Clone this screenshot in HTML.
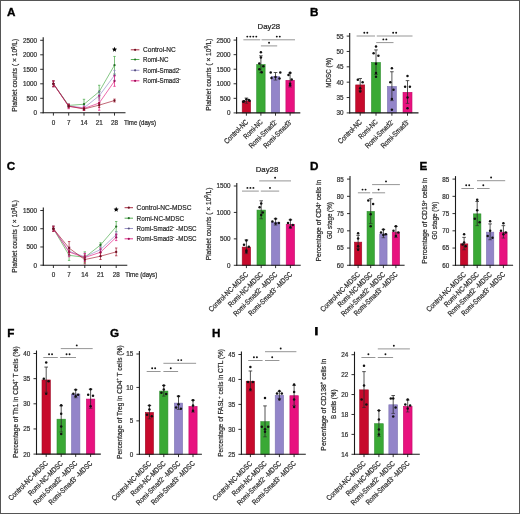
<!DOCTYPE html>
<html><head><meta charset="utf-8"><style>
html,body{margin:0;padding:0;background:#fff;width:520px;height:514px;overflow:hidden}
svg text{font-family:"Liberation Sans", sans-serif}
</style></head><body>
<svg width="520" height="514" viewBox="0 0 520 514" style="display:block;will-change:transform">
<rect x="0" y="0" width="520" height="514" fill="#fff"/>
<g font-family="Liberation Sans, sans-serif">
<text x="6.90" y="16.30" font-size="11.7" font-weight="bold" fill="#000" stroke="#000" stroke-width="0.35">A</text>
<text x="310.00" y="16.00" font-size="11.7" font-weight="bold" fill="#000" stroke="#000" stroke-width="0.35">B</text>
<text x="6.80" y="169.80" font-size="11.7" font-weight="bold" fill="#000" stroke="#000" stroke-width="0.35">C</text>
<text x="310.00" y="169.80" font-size="11.7" font-weight="bold" fill="#000" stroke="#000" stroke-width="0.35">D</text>
<text x="419.60" y="169.80" font-size="11.7" font-weight="bold" fill="#000" stroke="#000" stroke-width="0.35">E</text>
<text x="7.30" y="337.30" font-size="11.7" font-weight="bold" fill="#000" stroke="#000" stroke-width="0.35">F</text>
<text x="109.90" y="337.30" font-size="11.7" font-weight="bold" fill="#000" stroke="#000" stroke-width="0.35">G</text>
<text x="211.90" y="337.10" font-size="11.7" font-weight="bold" fill="#000" stroke="#000" stroke-width="0.35">H</text>
<rect x="315.1" y="327.0" width="2.6" height="8.4" fill="#000"/>
<polyline points="53.40,83.80 68.70,105.41 84.00,104.22 99.20,91.66 114.50,65.15" fill="none" stroke="#44a844" stroke-width="0.65"/>
<line x1="53.40" y1="80.90" x2="53.40" y2="86.70" stroke="#44a844" stroke-width="0.7"/>
<line x1="52.20" y1="80.90" x2="54.60" y2="80.90" stroke="#44a844" stroke-width="0.7"/>
<line x1="52.20" y1="86.70" x2="54.60" y2="86.70" stroke="#44a844" stroke-width="0.7"/>
<circle cx="53.40" cy="83.80" r="1.15" fill="#256e25"/>
<line x1="68.70" y1="103.95" x2="68.70" y2="106.85" stroke="#44a844" stroke-width="0.7"/>
<line x1="67.50" y1="103.95" x2="69.90" y2="103.95" stroke="#44a844" stroke-width="0.7"/>
<line x1="67.50" y1="106.85" x2="69.90" y2="106.85" stroke="#44a844" stroke-width="0.7"/>
<circle cx="68.70" cy="105.41" r="1.15" fill="#256e25"/>
<line x1="84.00" y1="99.29" x2="84.00" y2="109.15" stroke="#44a844" stroke-width="0.7"/>
<line x1="82.80" y1="99.29" x2="85.20" y2="99.29" stroke="#44a844" stroke-width="0.7"/>
<line x1="82.80" y1="109.15" x2="85.20" y2="109.15" stroke="#44a844" stroke-width="0.7"/>
<circle cx="84.00" cy="104.22" r="1.15" fill="#256e25"/>
<line x1="99.20" y1="85.28" x2="99.20" y2="98.04" stroke="#44a844" stroke-width="0.7"/>
<line x1="98.00" y1="85.28" x2="100.40" y2="85.28" stroke="#44a844" stroke-width="0.7"/>
<line x1="98.00" y1="98.04" x2="100.40" y2="98.04" stroke="#44a844" stroke-width="0.7"/>
<circle cx="99.20" cy="91.66" r="1.15" fill="#256e25"/>
<line x1="114.50" y1="56.45" x2="114.50" y2="73.85" stroke="#44a844" stroke-width="0.7"/>
<line x1="113.30" y1="56.45" x2="115.70" y2="56.45" stroke="#44a844" stroke-width="0.7"/>
<line x1="113.30" y1="73.85" x2="115.70" y2="73.85" stroke="#44a844" stroke-width="0.7"/>
<circle cx="114.50" cy="65.15" r="1.15" fill="#256e25"/>
<polyline points="53.40,83.80 68.70,105.84 84.00,107.87 99.20,95.75 114.50,75.33" fill="none" stroke="#9088c4" stroke-width="0.65"/>
<line x1="53.40" y1="80.90" x2="53.40" y2="86.70" stroke="#9088c4" stroke-width="0.7"/>
<line x1="52.20" y1="80.90" x2="54.60" y2="80.90" stroke="#9088c4" stroke-width="0.7"/>
<line x1="52.20" y1="86.70" x2="54.60" y2="86.70" stroke="#9088c4" stroke-width="0.7"/>
<circle cx="53.40" cy="83.80" r="1.15" fill="#55507a"/>
<line x1="68.70" y1="104.39" x2="68.70" y2="107.29" stroke="#9088c4" stroke-width="0.7"/>
<line x1="67.50" y1="104.39" x2="69.90" y2="104.39" stroke="#9088c4" stroke-width="0.7"/>
<line x1="67.50" y1="107.29" x2="69.90" y2="107.29" stroke="#9088c4" stroke-width="0.7"/>
<circle cx="68.70" cy="105.84" r="1.15" fill="#55507a"/>
<line x1="84.00" y1="105.55" x2="84.00" y2="110.19" stroke="#9088c4" stroke-width="0.7"/>
<line x1="82.80" y1="105.55" x2="85.20" y2="105.55" stroke="#9088c4" stroke-width="0.7"/>
<line x1="82.80" y1="110.19" x2="85.20" y2="110.19" stroke="#9088c4" stroke-width="0.7"/>
<circle cx="84.00" cy="107.87" r="1.15" fill="#55507a"/>
<line x1="99.20" y1="91.40" x2="99.20" y2="100.10" stroke="#9088c4" stroke-width="0.7"/>
<line x1="98.00" y1="91.40" x2="100.40" y2="91.40" stroke="#9088c4" stroke-width="0.7"/>
<line x1="98.00" y1="100.10" x2="100.40" y2="100.10" stroke="#9088c4" stroke-width="0.7"/>
<circle cx="99.20" cy="95.75" r="1.15" fill="#55507a"/>
<line x1="114.50" y1="70.40" x2="114.50" y2="80.26" stroke="#9088c4" stroke-width="0.7"/>
<line x1="113.30" y1="70.40" x2="115.70" y2="70.40" stroke="#9088c4" stroke-width="0.7"/>
<line x1="113.30" y1="80.26" x2="115.70" y2="80.26" stroke="#9088c4" stroke-width="0.7"/>
<circle cx="114.50" cy="75.33" r="1.15" fill="#55507a"/>
<polyline points="53.40,83.80 68.70,106.42 84.00,108.45 99.20,103.03 114.50,81.10" fill="none" stroke="#e2187f" stroke-width="0.65"/>
<line x1="53.40" y1="80.90" x2="53.40" y2="86.70" stroke="#e2187f" stroke-width="0.7"/>
<line x1="52.20" y1="80.90" x2="54.60" y2="80.90" stroke="#e2187f" stroke-width="0.7"/>
<line x1="52.20" y1="86.70" x2="54.60" y2="86.70" stroke="#e2187f" stroke-width="0.7"/>
<circle cx="53.40" cy="83.80" r="1.15" fill="#9a0f55"/>
<line x1="68.70" y1="104.10" x2="68.70" y2="108.74" stroke="#e2187f" stroke-width="0.7"/>
<line x1="67.50" y1="104.10" x2="69.90" y2="104.10" stroke="#e2187f" stroke-width="0.7"/>
<line x1="67.50" y1="108.74" x2="69.90" y2="108.74" stroke="#e2187f" stroke-width="0.7"/>
<circle cx="68.70" cy="106.42" r="1.15" fill="#9a0f55"/>
<line x1="84.00" y1="106.71" x2="84.00" y2="110.19" stroke="#e2187f" stroke-width="0.7"/>
<line x1="82.80" y1="106.71" x2="85.20" y2="106.71" stroke="#e2187f" stroke-width="0.7"/>
<line x1="82.80" y1="110.19" x2="85.20" y2="110.19" stroke="#e2187f" stroke-width="0.7"/>
<circle cx="84.00" cy="108.45" r="1.15" fill="#9a0f55"/>
<line x1="99.20" y1="95.78" x2="99.20" y2="110.28" stroke="#e2187f" stroke-width="0.7"/>
<line x1="98.00" y1="95.78" x2="100.40" y2="95.78" stroke="#e2187f" stroke-width="0.7"/>
<line x1="98.00" y1="110.28" x2="100.40" y2="110.28" stroke="#e2187f" stroke-width="0.7"/>
<circle cx="99.20" cy="103.03" r="1.15" fill="#9a0f55"/>
<line x1="114.50" y1="75.88" x2="114.50" y2="86.32" stroke="#e2187f" stroke-width="0.7"/>
<line x1="113.30" y1="75.88" x2="115.70" y2="75.88" stroke="#e2187f" stroke-width="0.7"/>
<line x1="113.30" y1="86.32" x2="115.70" y2="86.32" stroke="#e2187f" stroke-width="0.7"/>
<circle cx="114.50" cy="81.10" r="1.15" fill="#9a0f55"/>
<polyline points="53.40,83.80 68.70,106.13 84.00,109.03 99.20,105.11 114.50,100.53" fill="none" stroke="#a3172f" stroke-width="0.65"/>
<line x1="53.40" y1="80.90" x2="53.40" y2="86.70" stroke="#a3172f" stroke-width="0.7"/>
<line x1="52.20" y1="80.90" x2="54.60" y2="80.90" stroke="#a3172f" stroke-width="0.7"/>
<line x1="52.20" y1="86.70" x2="54.60" y2="86.70" stroke="#a3172f" stroke-width="0.7"/>
<circle cx="53.40" cy="83.80" r="1.15" fill="#6e0f20"/>
<line x1="68.70" y1="104.39" x2="68.70" y2="107.87" stroke="#a3172f" stroke-width="0.7"/>
<line x1="67.50" y1="104.39" x2="69.90" y2="104.39" stroke="#a3172f" stroke-width="0.7"/>
<line x1="67.50" y1="107.87" x2="69.90" y2="107.87" stroke="#a3172f" stroke-width="0.7"/>
<circle cx="68.70" cy="106.13" r="1.15" fill="#6e0f20"/>
<line x1="84.00" y1="107.58" x2="84.00" y2="110.48" stroke="#a3172f" stroke-width="0.7"/>
<line x1="82.80" y1="107.58" x2="85.20" y2="107.58" stroke="#a3172f" stroke-width="0.7"/>
<line x1="82.80" y1="110.48" x2="85.20" y2="110.48" stroke="#a3172f" stroke-width="0.7"/>
<circle cx="84.00" cy="109.03" r="1.15" fill="#6e0f20"/>
<line x1="99.20" y1="102.80" x2="99.20" y2="107.44" stroke="#a3172f" stroke-width="0.7"/>
<line x1="98.00" y1="102.80" x2="100.40" y2="102.80" stroke="#a3172f" stroke-width="0.7"/>
<line x1="98.00" y1="107.44" x2="100.40" y2="107.44" stroke="#a3172f" stroke-width="0.7"/>
<circle cx="99.20" cy="105.11" r="1.15" fill="#6e0f20"/>
<line x1="114.50" y1="99.08" x2="114.50" y2="101.98" stroke="#a3172f" stroke-width="0.7"/>
<line x1="113.30" y1="99.08" x2="115.70" y2="99.08" stroke="#a3172f" stroke-width="0.7"/>
<line x1="113.30" y1="101.98" x2="115.70" y2="101.98" stroke="#a3172f" stroke-width="0.7"/>
<circle cx="114.50" cy="100.53" r="1.15" fill="#6e0f20"/>
<line x1="43.20" y1="37.30" x2="43.20" y2="113.30" stroke="#1a1a1a" stroke-width="1.1"/>
<line x1="42.70" y1="112.80" x2="125.50" y2="112.80" stroke="#1a1a1a" stroke-width="1.1"/>
<line x1="40.20" y1="112.80" x2="43.20" y2="112.80" stroke="#1a1a1a" stroke-width="0.9"/>
<text x="36.90" y="115.20" font-size="6.3" text-anchor="end" fill="#333" stroke="#333" stroke-width="0.22">0</text>
<line x1="40.20" y1="98.30" x2="43.20" y2="98.30" stroke="#1a1a1a" stroke-width="0.9"/>
<text x="36.90" y="100.70" font-size="6.3" text-anchor="end" fill="#333" stroke="#333" stroke-width="0.22">500</text>
<line x1="40.20" y1="83.80" x2="43.20" y2="83.80" stroke="#1a1a1a" stroke-width="0.9"/>
<text x="36.90" y="86.20" font-size="6.3" text-anchor="end" fill="#333" stroke="#333" stroke-width="0.22">1000</text>
<line x1="40.20" y1="69.30" x2="43.20" y2="69.30" stroke="#1a1a1a" stroke-width="0.9"/>
<text x="36.90" y="71.70" font-size="6.3" text-anchor="end" fill="#333" stroke="#333" stroke-width="0.22">1500</text>
<line x1="40.20" y1="54.80" x2="43.20" y2="54.80" stroke="#1a1a1a" stroke-width="0.9"/>
<text x="36.90" y="57.20" font-size="6.3" text-anchor="end" fill="#333" stroke="#333" stroke-width="0.22">2000</text>
<line x1="40.20" y1="40.30" x2="43.20" y2="40.30" stroke="#1a1a1a" stroke-width="0.9"/>
<text x="36.90" y="42.70" font-size="6.3" text-anchor="end" fill="#333" stroke="#333" stroke-width="0.22">2500</text>
<line x1="53.40" y1="112.80" x2="53.40" y2="115.60" stroke="#1a1a1a" stroke-width="0.9"/>
<text x="53.40" y="124.80" font-size="6.3" text-anchor="middle" fill="#333" stroke="#333" stroke-width="0.22">0</text>
<line x1="68.70" y1="112.80" x2="68.70" y2="115.60" stroke="#1a1a1a" stroke-width="0.9"/>
<text x="68.70" y="124.80" font-size="6.3" text-anchor="middle" fill="#333" stroke="#333" stroke-width="0.22">7</text>
<line x1="84.00" y1="112.80" x2="84.00" y2="115.60" stroke="#1a1a1a" stroke-width="0.9"/>
<text x="84.00" y="124.80" font-size="6.3" text-anchor="middle" fill="#333" stroke="#333" stroke-width="0.22">14</text>
<line x1="99.20" y1="112.80" x2="99.20" y2="115.60" stroke="#1a1a1a" stroke-width="0.9"/>
<text x="99.20" y="124.80" font-size="6.3" text-anchor="middle" fill="#333" stroke="#333" stroke-width="0.22">21</text>
<line x1="114.50" y1="112.80" x2="114.50" y2="115.60" stroke="#1a1a1a" stroke-width="0.9"/>
<text x="114.50" y="124.80" font-size="6.3" text-anchor="middle" fill="#333" stroke="#333" stroke-width="0.22">28</text>
<text x="124.00" y="124.80" font-size="6.8" text-anchor="start" fill="#2a2a2a" stroke="#2a2a2a" stroke-width="0.22" textLength="32" lengthAdjust="spacingAndGlyphs">Time (days)</text>
<polygon points="114.50,46.80 115.21,48.52 117.07,48.67 115.66,49.88 116.09,51.68 114.50,50.72 112.91,51.68 113.34,49.88 111.93,48.67 113.79,48.52" fill="#000"/>
<line x1="130.80" y1="49.80" x2="139.40" y2="49.80" stroke="#a3172f" stroke-width="0.9"/>
<circle cx="135.10" cy="49.80" r="1.1" fill="#6e0f20"/>
<text x="143.00" y="52.40" font-size="7.5" text-anchor="start" fill="#2a2a2a" stroke="#2a2a2a" stroke-width="0.22" textLength="32.8" lengthAdjust="spacingAndGlyphs">Control-NC</text>
<line x1="130.80" y1="59.50" x2="139.40" y2="59.50" stroke="#44a844" stroke-width="0.9"/>
<circle cx="135.10" cy="59.50" r="1.1" fill="#256e25"/>
<text x="143.00" y="62.10" font-size="7.5" text-anchor="start" fill="#2a2a2a" stroke="#2a2a2a" stroke-width="0.22" textLength="25.5" lengthAdjust="spacingAndGlyphs">Romi-NC</text>
<line x1="130.80" y1="70.30" x2="139.40" y2="70.30" stroke="#9088c4" stroke-width="0.9"/>
<circle cx="135.10" cy="70.30" r="1.1" fill="#55507a"/>
<text x="143.00" y="72.90" font-size="7.5" text-anchor="start" fill="#2a2a2a" stroke="#2a2a2a" stroke-width="0.22" textLength="37.5" lengthAdjust="spacingAndGlyphs">Romi-Smad2<tspan dy="-2.3" font-size="4.6">-</tspan></text>
<line x1="130.80" y1="80.80" x2="139.40" y2="80.80" stroke="#e2187f" stroke-width="0.9"/>
<circle cx="135.10" cy="80.80" r="1.1" fill="#9a0f55"/>
<text x="143.00" y="83.40" font-size="7.5" text-anchor="start" fill="#2a2a2a" stroke="#2a2a2a" stroke-width="0.22" textLength="37.5" lengthAdjust="spacingAndGlyphs">Romi-Smad3<tspan dy="-2.3" font-size="4.6">-</tspan></text>
<text x="17.40" y="75.20" font-size="7.8" text-anchor="middle" fill="#2a2a2a" stroke="#2a2a2a" stroke-width="0.22" textLength="72.9" lengthAdjust="spacingAndGlyphs" transform="rotate(-90 17.40 75.20)">Platelet counts ( × 10<tspan dy="-2.6" font-size="5">9</tspan><tspan dy="2.6">/L)</tspan></text>
<polyline points="53.40,228.73 69.10,255.32 84.80,257.29 100.50,245.00 116.20,226.62" fill="none" stroke="#44a844" stroke-width="0.65"/>
<line x1="53.40" y1="226.18" x2="53.40" y2="231.29" stroke="#44a844" stroke-width="0.7"/>
<line x1="52.20" y1="226.18" x2="54.60" y2="226.18" stroke="#44a844" stroke-width="0.7"/>
<line x1="52.20" y1="231.29" x2="54.60" y2="231.29" stroke="#44a844" stroke-width="0.7"/>
<circle cx="53.40" cy="228.73" r="1.15" fill="#256e25"/>
<line x1="69.10" y1="250.21" x2="69.10" y2="260.42" stroke="#44a844" stroke-width="0.7"/>
<line x1="67.90" y1="250.21" x2="70.30" y2="250.21" stroke="#44a844" stroke-width="0.7"/>
<line x1="67.90" y1="260.42" x2="70.30" y2="260.42" stroke="#44a844" stroke-width="0.7"/>
<circle cx="69.10" cy="255.32" r="1.15" fill="#256e25"/>
<line x1="84.80" y1="251.82" x2="84.80" y2="262.76" stroke="#44a844" stroke-width="0.7"/>
<line x1="83.60" y1="251.82" x2="86.00" y2="251.82" stroke="#44a844" stroke-width="0.7"/>
<line x1="83.60" y1="262.76" x2="86.00" y2="262.76" stroke="#44a844" stroke-width="0.7"/>
<circle cx="84.80" cy="257.29" r="1.15" fill="#256e25"/>
<line x1="100.50" y1="242.81" x2="100.50" y2="247.19" stroke="#44a844" stroke-width="0.7"/>
<line x1="99.30" y1="242.81" x2="101.70" y2="242.81" stroke="#44a844" stroke-width="0.7"/>
<line x1="99.30" y1="247.19" x2="101.70" y2="247.19" stroke="#44a844" stroke-width="0.7"/>
<circle cx="100.50" cy="245.00" r="1.15" fill="#256e25"/>
<line x1="116.20" y1="221.51" x2="116.20" y2="231.72" stroke="#44a844" stroke-width="0.7"/>
<line x1="115.00" y1="221.51" x2="117.40" y2="221.51" stroke="#44a844" stroke-width="0.7"/>
<line x1="115.00" y1="231.72" x2="117.40" y2="231.72" stroke="#44a844" stroke-width="0.7"/>
<circle cx="116.20" cy="226.62" r="1.15" fill="#256e25"/>
<polyline points="53.40,228.73 69.10,251.34 84.80,256.81 100.50,249.59 116.20,234.71" fill="none" stroke="#9088c4" stroke-width="0.65"/>
<line x1="53.40" y1="226.18" x2="53.40" y2="231.29" stroke="#9088c4" stroke-width="0.7"/>
<line x1="52.20" y1="226.18" x2="54.60" y2="226.18" stroke="#9088c4" stroke-width="0.7"/>
<line x1="52.20" y1="231.29" x2="54.60" y2="231.29" stroke="#9088c4" stroke-width="0.7"/>
<circle cx="53.40" cy="228.73" r="1.15" fill="#55507a"/>
<line x1="69.10" y1="246.97" x2="69.10" y2="255.72" stroke="#9088c4" stroke-width="0.7"/>
<line x1="67.90" y1="246.97" x2="70.30" y2="246.97" stroke="#9088c4" stroke-width="0.7"/>
<line x1="67.90" y1="255.72" x2="70.30" y2="255.72" stroke="#9088c4" stroke-width="0.7"/>
<circle cx="69.10" cy="251.34" r="1.15" fill="#55507a"/>
<line x1="84.80" y1="253.17" x2="84.80" y2="260.46" stroke="#9088c4" stroke-width="0.7"/>
<line x1="83.60" y1="253.17" x2="86.00" y2="253.17" stroke="#9088c4" stroke-width="0.7"/>
<line x1="83.60" y1="260.46" x2="86.00" y2="260.46" stroke="#9088c4" stroke-width="0.7"/>
<circle cx="84.80" cy="256.81" r="1.15" fill="#55507a"/>
<line x1="100.50" y1="246.67" x2="100.50" y2="252.51" stroke="#9088c4" stroke-width="0.7"/>
<line x1="99.30" y1="246.67" x2="101.70" y2="246.67" stroke="#9088c4" stroke-width="0.7"/>
<line x1="99.30" y1="252.51" x2="101.70" y2="252.51" stroke="#9088c4" stroke-width="0.7"/>
<circle cx="100.50" cy="249.59" r="1.15" fill="#55507a"/>
<line x1="116.20" y1="231.80" x2="116.20" y2="237.63" stroke="#9088c4" stroke-width="0.7"/>
<line x1="115.00" y1="231.80" x2="117.40" y2="231.80" stroke="#9088c4" stroke-width="0.7"/>
<line x1="115.00" y1="237.63" x2="117.40" y2="237.63" stroke="#9088c4" stroke-width="0.7"/>
<circle cx="116.20" cy="234.71" r="1.15" fill="#55507a"/>
<polyline points="53.40,228.73 69.10,252.00 84.80,257.54 100.50,252.22 116.20,237.30" fill="none" stroke="#e2187f" stroke-width="0.65"/>
<line x1="53.40" y1="226.18" x2="53.40" y2="231.29" stroke="#e2187f" stroke-width="0.7"/>
<line x1="52.20" y1="226.18" x2="54.60" y2="226.18" stroke="#e2187f" stroke-width="0.7"/>
<line x1="52.20" y1="231.29" x2="54.60" y2="231.29" stroke="#e2187f" stroke-width="0.7"/>
<circle cx="53.40" cy="228.73" r="1.15" fill="#9a0f55"/>
<line x1="69.10" y1="247.26" x2="69.10" y2="256.74" stroke="#e2187f" stroke-width="0.7"/>
<line x1="67.90" y1="247.26" x2="70.30" y2="247.26" stroke="#e2187f" stroke-width="0.7"/>
<line x1="67.90" y1="256.74" x2="70.30" y2="256.74" stroke="#e2187f" stroke-width="0.7"/>
<circle cx="69.10" cy="252.00" r="1.15" fill="#9a0f55"/>
<line x1="84.80" y1="253.53" x2="84.80" y2="261.55" stroke="#e2187f" stroke-width="0.7"/>
<line x1="83.60" y1="253.53" x2="86.00" y2="253.53" stroke="#e2187f" stroke-width="0.7"/>
<line x1="83.60" y1="261.55" x2="86.00" y2="261.55" stroke="#e2187f" stroke-width="0.7"/>
<circle cx="84.80" cy="257.54" r="1.15" fill="#9a0f55"/>
<line x1="100.50" y1="248.21" x2="100.50" y2="256.23" stroke="#e2187f" stroke-width="0.7"/>
<line x1="99.30" y1="248.21" x2="101.70" y2="248.21" stroke="#e2187f" stroke-width="0.7"/>
<line x1="99.30" y1="256.23" x2="101.70" y2="256.23" stroke="#e2187f" stroke-width="0.7"/>
<circle cx="100.50" cy="252.22" r="1.15" fill="#9a0f55"/>
<line x1="116.20" y1="234.02" x2="116.20" y2="240.58" stroke="#e2187f" stroke-width="0.7"/>
<line x1="115.00" y1="234.02" x2="117.40" y2="234.02" stroke="#e2187f" stroke-width="0.7"/>
<line x1="115.00" y1="240.58" x2="117.40" y2="240.58" stroke="#e2187f" stroke-width="0.7"/>
<circle cx="116.20" cy="237.30" r="1.15" fill="#9a0f55"/>
<polyline points="53.40,228.73 69.10,248.10 84.80,259.58 100.50,256.19 116.20,251.89" fill="none" stroke="#a3172f" stroke-width="0.65"/>
<line x1="53.40" y1="226.18" x2="53.40" y2="231.29" stroke="#a3172f" stroke-width="0.7"/>
<line x1="52.20" y1="226.18" x2="54.60" y2="226.18" stroke="#a3172f" stroke-width="0.7"/>
<line x1="52.20" y1="231.29" x2="54.60" y2="231.29" stroke="#a3172f" stroke-width="0.7"/>
<circle cx="53.40" cy="228.73" r="1.15" fill="#6e0f20"/>
<line x1="69.10" y1="241.53" x2="69.10" y2="254.66" stroke="#a3172f" stroke-width="0.7"/>
<line x1="67.90" y1="241.53" x2="70.30" y2="241.53" stroke="#a3172f" stroke-width="0.7"/>
<line x1="67.90" y1="254.66" x2="70.30" y2="254.66" stroke="#a3172f" stroke-width="0.7"/>
<circle cx="69.10" cy="248.10" r="1.15" fill="#6e0f20"/>
<line x1="84.80" y1="255.21" x2="84.80" y2="263.96" stroke="#a3172f" stroke-width="0.7"/>
<line x1="83.60" y1="255.21" x2="86.00" y2="255.21" stroke="#a3172f" stroke-width="0.7"/>
<line x1="83.60" y1="263.96" x2="86.00" y2="263.96" stroke="#a3172f" stroke-width="0.7"/>
<circle cx="84.80" cy="259.58" r="1.15" fill="#6e0f20"/>
<line x1="100.50" y1="252.91" x2="100.50" y2="259.47" stroke="#a3172f" stroke-width="0.7"/>
<line x1="99.30" y1="252.91" x2="101.70" y2="252.91" stroke="#a3172f" stroke-width="0.7"/>
<line x1="99.30" y1="259.47" x2="101.70" y2="259.47" stroke="#a3172f" stroke-width="0.7"/>
<circle cx="100.50" cy="256.19" r="1.15" fill="#6e0f20"/>
<line x1="116.20" y1="247.99" x2="116.20" y2="255.79" stroke="#a3172f" stroke-width="0.7"/>
<line x1="115.00" y1="247.99" x2="117.40" y2="247.99" stroke="#a3172f" stroke-width="0.7"/>
<line x1="115.00" y1="255.79" x2="117.40" y2="255.79" stroke="#a3172f" stroke-width="0.7"/>
<circle cx="116.20" cy="251.89" r="1.15" fill="#6e0f20"/>
<line x1="43.30" y1="207.50" x2="43.30" y2="265.70" stroke="#1a1a1a" stroke-width="1.1"/>
<line x1="42.80" y1="265.20" x2="127.30" y2="265.20" stroke="#1a1a1a" stroke-width="1.1"/>
<line x1="40.30" y1="265.20" x2="43.30" y2="265.20" stroke="#1a1a1a" stroke-width="0.9"/>
<text x="37.00" y="267.60" font-size="6.3" text-anchor="end" fill="#333" stroke="#333" stroke-width="0.22">0</text>
<line x1="40.30" y1="246.97" x2="43.30" y2="246.97" stroke="#1a1a1a" stroke-width="0.9"/>
<text x="37.00" y="249.37" font-size="6.3" text-anchor="end" fill="#333" stroke="#333" stroke-width="0.22">500</text>
<line x1="40.30" y1="228.73" x2="43.30" y2="228.73" stroke="#1a1a1a" stroke-width="0.9"/>
<text x="37.00" y="231.13" font-size="6.3" text-anchor="end" fill="#333" stroke="#333" stroke-width="0.22">1000</text>
<line x1="40.30" y1="210.50" x2="43.30" y2="210.50" stroke="#1a1a1a" stroke-width="0.9"/>
<text x="37.00" y="212.90" font-size="6.3" text-anchor="end" fill="#333" stroke="#333" stroke-width="0.22">1500</text>
<line x1="53.40" y1="265.20" x2="53.40" y2="268.00" stroke="#1a1a1a" stroke-width="0.9"/>
<text x="53.40" y="277.20" font-size="6.3" text-anchor="middle" fill="#333" stroke="#333" stroke-width="0.22">0</text>
<line x1="69.10" y1="265.20" x2="69.10" y2="268.00" stroke="#1a1a1a" stroke-width="0.9"/>
<text x="69.10" y="277.20" font-size="6.3" text-anchor="middle" fill="#333" stroke="#333" stroke-width="0.22">7</text>
<line x1="84.80" y1="265.20" x2="84.80" y2="268.00" stroke="#1a1a1a" stroke-width="0.9"/>
<text x="84.80" y="277.20" font-size="6.3" text-anchor="middle" fill="#333" stroke="#333" stroke-width="0.22">14</text>
<line x1="100.50" y1="265.20" x2="100.50" y2="268.00" stroke="#1a1a1a" stroke-width="0.9"/>
<text x="100.50" y="277.20" font-size="6.3" text-anchor="middle" fill="#333" stroke="#333" stroke-width="0.22">21</text>
<line x1="116.20" y1="265.20" x2="116.20" y2="268.00" stroke="#1a1a1a" stroke-width="0.9"/>
<text x="116.20" y="277.20" font-size="6.3" text-anchor="middle" fill="#333" stroke="#333" stroke-width="0.22">28</text>
<text x="125.20" y="277.20" font-size="6.8" text-anchor="start" fill="#2a2a2a" stroke="#2a2a2a" stroke-width="0.22" textLength="32" lengthAdjust="spacingAndGlyphs">Time (days)</text>
<polygon points="116.20,206.80 116.91,208.52 118.77,208.67 117.36,209.88 117.79,211.68 116.20,210.72 114.61,211.68 115.04,209.88 113.63,208.67 115.49,208.52" fill="#000"/>
<line x1="124.60" y1="207.70" x2="133.00" y2="207.70" stroke="#a3172f" stroke-width="0.9"/>
<circle cx="128.80" cy="207.70" r="1.1" fill="#6e0f20"/>
<text x="136.60" y="210.30" font-size="7.5" text-anchor="start" fill="#2a2a2a" stroke="#2a2a2a" stroke-width="0.22" textLength="54.9" lengthAdjust="spacingAndGlyphs">Control-NC-MDSC</text>
<line x1="124.60" y1="218.20" x2="133.00" y2="218.20" stroke="#44a844" stroke-width="0.9"/>
<circle cx="128.80" cy="218.20" r="1.1" fill="#256e25"/>
<text x="136.60" y="220.80" font-size="7.5" text-anchor="start" fill="#2a2a2a" stroke="#2a2a2a" stroke-width="0.22" textLength="47.5" lengthAdjust="spacingAndGlyphs">Romi-NC-MDSC</text>
<line x1="124.60" y1="228.50" x2="133.00" y2="228.50" stroke="#9088c4" stroke-width="0.9"/>
<circle cx="128.80" cy="228.50" r="1.1" fill="#55507a"/>
<text x="136.60" y="231.10" font-size="7.5" text-anchor="start" fill="#2a2a2a" stroke="#2a2a2a" stroke-width="0.22" textLength="60" lengthAdjust="spacingAndGlyphs">Romi-Smad2<tspan dy="-2.3" font-size="4.6">-</tspan><tspan dy="2.3"> -MDSC</tspan></text>
<line x1="124.60" y1="238.80" x2="133.00" y2="238.80" stroke="#e2187f" stroke-width="0.9"/>
<circle cx="128.80" cy="238.80" r="1.1" fill="#9a0f55"/>
<text x="136.60" y="241.40" font-size="7.5" text-anchor="start" fill="#2a2a2a" stroke="#2a2a2a" stroke-width="0.22" textLength="60" lengthAdjust="spacingAndGlyphs">Romi-Smad3<tspan dy="-2.3" font-size="4.6">-</tspan><tspan dy="2.3"> -MDSC</tspan></text>
<text x="17.50" y="236.40" font-size="7.8" text-anchor="middle" fill="#2a2a2a" stroke="#2a2a2a" stroke-width="0.22" textLength="72.6" lengthAdjust="spacingAndGlyphs" transform="rotate(-90 17.50 236.40)">Platelet counts ( × 10<tspan dy="-2.6" font-size="5">9</tspan><tspan dy="2.6">/L)</tspan></text>
<rect x="242.20" y="100.97" width="8.40" height="11.93" fill="#c70a2c" stroke="#a00a26" stroke-width="0.6"/>
<rect x="256.70" y="64.54" width="8.40" height="48.36" fill="#3aa935" stroke="#2c8c2c" stroke-width="0.6"/>
<rect x="271.30" y="76.60" width="8.40" height="36.30" fill="#9385c9" stroke="#7d74b2" stroke-width="0.6"/>
<rect x="285.90" y="80.29" width="8.40" height="32.61" fill="#e8127f" stroke="#c20a6a" stroke-width="0.6"/>
<line x1="246.40" y1="98.05" x2="246.40" y2="103.29" stroke="#2a2a2a" stroke-width="0.8"/>
<line x1="244.60" y1="98.05" x2="248.20" y2="98.05" stroke="#2a2a2a" stroke-width="0.8"/>
<line x1="244.60" y1="103.29" x2="248.20" y2="103.29" stroke="#2a2a2a" stroke-width="0.6"/>
<circle cx="244.00" cy="101.25" r="1.25" fill="#111"/>
<circle cx="248.80" cy="100.09" r="1.25" fill="#111"/>
<circle cx="246.40" cy="99.21" r="1.25" fill="#111"/>
<circle cx="243.20" cy="101.83" r="1.25" fill="#111"/>
<circle cx="249.60" cy="100.67" r="1.25" fill="#111"/>
<line x1="260.90" y1="55.80" x2="260.90" y2="72.69" stroke="#2a2a2a" stroke-width="0.8"/>
<line x1="259.10" y1="55.80" x2="262.70" y2="55.80" stroke="#2a2a2a" stroke-width="0.8"/>
<line x1="259.10" y1="72.69" x2="262.70" y2="72.69" stroke="#2a2a2a" stroke-width="0.6"/>
<circle cx="260.90" cy="52.18" r="1.25" fill="#111"/>
<circle cx="260.90" cy="57.57" r="1.25" fill="#111"/>
<circle cx="259.30" cy="63.40" r="1.25" fill="#111"/>
<circle cx="263.30" cy="66.31" r="1.25" fill="#111"/>
<circle cx="259.30" cy="69.22" r="1.25" fill="#111"/>
<circle cx="261.70" cy="72.13" r="1.25" fill="#111"/>
<line x1="275.50" y1="72.51" x2="275.50" y2="80.08" stroke="#2a2a2a" stroke-width="0.8"/>
<line x1="273.70" y1="72.51" x2="277.30" y2="72.51" stroke="#2a2a2a" stroke-width="0.8"/>
<line x1="273.70" y1="80.08" x2="277.30" y2="80.08" stroke="#2a2a2a" stroke-width="0.6"/>
<circle cx="270.70" cy="72.42" r="1.25" fill="#111"/>
<circle cx="280.30" cy="72.42" r="1.25" fill="#111"/>
<circle cx="271.50" cy="77.96" r="1.25" fill="#111"/>
<circle cx="275.50" cy="77.08" r="1.25" fill="#111"/>
<circle cx="279.50" cy="78.54" r="1.25" fill="#111"/>
<line x1="290.10" y1="73.01" x2="290.10" y2="86.98" stroke="#2a2a2a" stroke-width="0.8"/>
<line x1="288.30" y1="73.01" x2="291.90" y2="73.01" stroke="#2a2a2a" stroke-width="0.8"/>
<line x1="288.30" y1="86.98" x2="291.90" y2="86.98" stroke="#2a2a2a" stroke-width="0.6"/>
<circle cx="290.10" cy="72.71" r="1.25" fill="#111"/>
<circle cx="288.50" cy="75.04" r="1.25" fill="#111"/>
<circle cx="291.70" cy="79.41" r="1.25" fill="#111"/>
<circle cx="290.10" cy="83.78" r="1.25" fill="#111"/>
<circle cx="290.10" cy="85.24" r="1.25" fill="#111"/>
<line x1="236.60" y1="37.10" x2="236.60" y2="113.40" stroke="#1a1a1a" stroke-width="1.1"/>
<line x1="236.10" y1="112.90" x2="300.30" y2="112.90" stroke="#1a1a1a" stroke-width="1.1"/>
<line x1="233.60" y1="112.90" x2="236.60" y2="112.90" stroke="#1a1a1a" stroke-width="0.9"/>
<text x="230.40" y="115.30" font-size="6.3" text-anchor="end" fill="#333" stroke="#333" stroke-width="0.22">0</text>
<line x1="233.60" y1="98.34" x2="236.60" y2="98.34" stroke="#1a1a1a" stroke-width="0.9"/>
<text x="230.40" y="100.74" font-size="6.3" text-anchor="end" fill="#333" stroke="#333" stroke-width="0.22">500</text>
<line x1="233.60" y1="83.78" x2="236.60" y2="83.78" stroke="#1a1a1a" stroke-width="0.9"/>
<text x="230.40" y="86.18" font-size="6.3" text-anchor="end" fill="#333" stroke="#333" stroke-width="0.22">1000</text>
<line x1="233.60" y1="69.22" x2="236.60" y2="69.22" stroke="#1a1a1a" stroke-width="0.9"/>
<text x="230.40" y="71.62" font-size="6.3" text-anchor="end" fill="#333" stroke="#333" stroke-width="0.22">1500</text>
<line x1="233.60" y1="54.66" x2="236.60" y2="54.66" stroke="#1a1a1a" stroke-width="0.9"/>
<text x="230.40" y="57.06" font-size="6.3" text-anchor="end" fill="#333" stroke="#333" stroke-width="0.22">2000</text>
<line x1="233.60" y1="40.10" x2="236.60" y2="40.10" stroke="#1a1a1a" stroke-width="0.9"/>
<text x="230.40" y="42.50" font-size="6.3" text-anchor="end" fill="#333" stroke="#333" stroke-width="0.22">2500</text>
<line x1="246.40" y1="112.90" x2="246.40" y2="115.70" stroke="#1a1a1a" stroke-width="0.9"/>
<line x1="260.90" y1="112.90" x2="260.90" y2="115.70" stroke="#1a1a1a" stroke-width="0.9"/>
<line x1="275.50" y1="112.90" x2="275.50" y2="115.70" stroke="#1a1a1a" stroke-width="0.9"/>
<line x1="290.10" y1="112.90" x2="290.10" y2="115.70" stroke="#1a1a1a" stroke-width="0.9"/>
<text x="248.70" y="122.60" font-size="7.4" text-anchor="end" fill="#2a2a2a" stroke="#2a2a2a" stroke-width="0.22" textLength="30.7" lengthAdjust="spacingAndGlyphs" transform="rotate(-45 248.70 122.60)">Control-NC</text>
<text x="263.20" y="122.60" font-size="7.4" text-anchor="end" fill="#2a2a2a" stroke="#2a2a2a" stroke-width="0.22" textLength="24" lengthAdjust="spacingAndGlyphs" transform="rotate(-45 263.20 122.60)">Romi-NC</text>
<text x="277.80" y="122.60" font-size="7.4" text-anchor="end" fill="#2a2a2a" stroke="#2a2a2a" stroke-width="0.22" textLength="37" lengthAdjust="spacingAndGlyphs" transform="rotate(-45 277.80 122.60)">Romi-Smad2<tspan dy="-2.3" font-size="4.6">-</tspan></text>
<text x="292.40" y="122.60" font-size="7.4" text-anchor="end" fill="#2a2a2a" stroke="#2a2a2a" stroke-width="0.22" textLength="37" lengthAdjust="spacingAndGlyphs" transform="rotate(-45 292.40 122.60)">Romi-Smad3<tspan dy="-2.3" font-size="4.6">-</tspan></text>
<line x1="243.40" y1="39.80" x2="260.20" y2="39.80" stroke="#8a8a8a" stroke-width="0.9"/>
<circle cx="247.30" cy="36.60" r="0.95" fill="#111"/>
<circle cx="250.30" cy="36.60" r="0.95" fill="#111"/>
<circle cx="253.30" cy="36.60" r="0.95" fill="#111"/>
<circle cx="256.30" cy="36.60" r="0.95" fill="#111"/>
<line x1="261.60" y1="39.80" x2="295.00" y2="39.80" stroke="#8a8a8a" stroke-width="0.9"/>
<circle cx="276.80" cy="36.60" r="0.95" fill="#111"/>
<circle cx="279.80" cy="36.60" r="0.95" fill="#111"/>
<line x1="260.90" y1="45.90" x2="277.20" y2="45.90" stroke="#8a8a8a" stroke-width="0.9"/>
<circle cx="269.05" cy="42.70" r="0.95" fill="#111"/>
<text x="210.80" y="74.60" font-size="7.8" text-anchor="middle" fill="#2a2a2a" stroke="#2a2a2a" stroke-width="0.22" textLength="72.1" lengthAdjust="spacingAndGlyphs" transform="rotate(-90 210.80 74.60)">Platelet counts ( × 10<tspan dy="-2.6" font-size="5">9</tspan><tspan dy="2.6">/L)</tspan></text>
<text x="268.80" y="29.20" font-size="8.1" text-anchor="middle" fill="#1e1e1e" stroke="#1e1e1e" stroke-width="0.22" textLength="22.5" lengthAdjust="spacingAndGlyphs">Day28</text>
<rect x="355.70" y="84.94" width="9.00" height="27.96" fill="#c70a2c" stroke="#a00a26" stroke-width="0.6"/>
<rect x="371.50" y="62.51" width="9.00" height="50.39" fill="#3aa935" stroke="#2c8c2c" stroke-width="0.6"/>
<rect x="387.40" y="86.47" width="9.00" height="26.43" fill="#9385c9" stroke="#7d74b2" stroke-width="0.6"/>
<rect x="403.00" y="92.31" width="9.00" height="20.59" fill="#e8127f" stroke="#c20a6a" stroke-width="0.6"/>
<line x1="360.20" y1="78.49" x2="360.20" y2="90.78" stroke="#2a2a2a" stroke-width="0.8"/>
<line x1="358.40" y1="78.49" x2="362.00" y2="78.49" stroke="#2a2a2a" stroke-width="0.8"/>
<line x1="358.40" y1="90.78" x2="362.00" y2="90.78" stroke="#2a2a2a" stroke-width="0.6"/>
<circle cx="357.80" cy="79.72" r="1.25" fill="#111"/>
<circle cx="362.60" cy="82.18" r="1.25" fill="#111"/>
<circle cx="360.20" cy="88.32" r="1.25" fill="#111"/>
<circle cx="360.20" cy="91.40" r="1.25" fill="#111"/>
<line x1="376.00" y1="49.92" x2="376.00" y2="74.50" stroke="#2a2a2a" stroke-width="0.8"/>
<line x1="374.20" y1="49.92" x2="377.80" y2="49.92" stroke="#2a2a2a" stroke-width="0.8"/>
<line x1="374.20" y1="74.50" x2="377.80" y2="74.50" stroke="#2a2a2a" stroke-width="0.6"/>
<circle cx="376.00" cy="46.54" r="1.25" fill="#111"/>
<circle cx="373.60" cy="53.30" r="1.25" fill="#111"/>
<circle cx="378.40" cy="55.76" r="1.25" fill="#111"/>
<circle cx="376.00" cy="63.75" r="1.25" fill="#111"/>
<circle cx="376.00" cy="72.96" r="1.25" fill="#111"/>
<circle cx="376.00" cy="76.65" r="1.25" fill="#111"/>
<line x1="391.90" y1="71.74" x2="391.90" y2="100.61" stroke="#2a2a2a" stroke-width="0.8"/>
<line x1="390.10" y1="71.74" x2="393.70" y2="71.74" stroke="#2a2a2a" stroke-width="0.8"/>
<line x1="390.10" y1="100.61" x2="393.70" y2="100.61" stroke="#2a2a2a" stroke-width="0.6"/>
<circle cx="391.90" cy="68.36" r="1.25" fill="#111"/>
<circle cx="390.30" cy="82.18" r="1.25" fill="#111"/>
<circle cx="393.50" cy="89.86" r="1.25" fill="#111"/>
<circle cx="391.90" cy="99.08" r="1.25" fill="#111"/>
<circle cx="391.90" cy="109.83" r="1.25" fill="#111"/>
<line x1="407.50" y1="80.64" x2="407.50" y2="103.38" stroke="#2a2a2a" stroke-width="0.8"/>
<line x1="405.70" y1="80.64" x2="409.30" y2="80.64" stroke="#2a2a2a" stroke-width="0.8"/>
<line x1="405.70" y1="103.38" x2="409.30" y2="103.38" stroke="#2a2a2a" stroke-width="0.6"/>
<circle cx="407.50" cy="76.04" r="1.25" fill="#111"/>
<circle cx="405.10" cy="86.79" r="1.25" fill="#111"/>
<circle cx="409.90" cy="86.79" r="1.25" fill="#111"/>
<circle cx="407.50" cy="97.54" r="1.25" fill="#111"/>
<circle cx="407.50" cy="108.29" r="1.25" fill="#111"/>
<line x1="349.70" y1="33.10" x2="349.70" y2="113.40" stroke="#1a1a1a" stroke-width="1.1"/>
<line x1="349.20" y1="112.90" x2="418.50" y2="112.90" stroke="#1a1a1a" stroke-width="1.1"/>
<line x1="346.70" y1="112.90" x2="349.70" y2="112.90" stroke="#1a1a1a" stroke-width="0.9"/>
<text x="343.50" y="115.30" font-size="6.3" text-anchor="end" fill="#333" stroke="#333" stroke-width="0.22">30</text>
<line x1="346.70" y1="97.54" x2="349.70" y2="97.54" stroke="#1a1a1a" stroke-width="0.9"/>
<text x="343.50" y="99.94" font-size="6.3" text-anchor="end" fill="#333" stroke="#333" stroke-width="0.22">35</text>
<line x1="346.70" y1="82.18" x2="349.70" y2="82.18" stroke="#1a1a1a" stroke-width="0.9"/>
<text x="343.50" y="84.58" font-size="6.3" text-anchor="end" fill="#333" stroke="#333" stroke-width="0.22">40</text>
<line x1="346.70" y1="66.82" x2="349.70" y2="66.82" stroke="#1a1a1a" stroke-width="0.9"/>
<text x="343.50" y="69.22" font-size="6.3" text-anchor="end" fill="#333" stroke="#333" stroke-width="0.22">45</text>
<line x1="346.70" y1="51.46" x2="349.70" y2="51.46" stroke="#1a1a1a" stroke-width="0.9"/>
<text x="343.50" y="53.86" font-size="6.3" text-anchor="end" fill="#333" stroke="#333" stroke-width="0.22">50</text>
<line x1="346.70" y1="36.10" x2="349.70" y2="36.10" stroke="#1a1a1a" stroke-width="0.9"/>
<text x="343.50" y="38.50" font-size="6.3" text-anchor="end" fill="#333" stroke="#333" stroke-width="0.22">55</text>
<line x1="360.20" y1="112.90" x2="360.20" y2="115.70" stroke="#1a1a1a" stroke-width="0.9"/>
<line x1="376.00" y1="112.90" x2="376.00" y2="115.70" stroke="#1a1a1a" stroke-width="0.9"/>
<line x1="391.90" y1="112.90" x2="391.90" y2="115.70" stroke="#1a1a1a" stroke-width="0.9"/>
<line x1="407.50" y1="112.90" x2="407.50" y2="115.70" stroke="#1a1a1a" stroke-width="0.9"/>
<text x="362.50" y="122.60" font-size="7.4" text-anchor="end" fill="#2a2a2a" stroke="#2a2a2a" stroke-width="0.22" textLength="30.7" lengthAdjust="spacingAndGlyphs" transform="rotate(-45 362.50 122.60)">Control-NC</text>
<text x="378.30" y="122.60" font-size="7.4" text-anchor="end" fill="#2a2a2a" stroke="#2a2a2a" stroke-width="0.22" textLength="24" lengthAdjust="spacingAndGlyphs" transform="rotate(-45 378.30 122.60)">Romi-NC</text>
<text x="394.20" y="122.60" font-size="7.4" text-anchor="end" fill="#2a2a2a" stroke="#2a2a2a" stroke-width="0.22" textLength="37" lengthAdjust="spacingAndGlyphs" transform="rotate(-45 394.20 122.60)">Romi-Smad2<tspan dy="-2.3" font-size="4.6">-</tspan></text>
<text x="409.80" y="122.60" font-size="7.4" text-anchor="end" fill="#2a2a2a" stroke="#2a2a2a" stroke-width="0.22" textLength="37" lengthAdjust="spacingAndGlyphs" transform="rotate(-45 409.80 122.60)">Romi-Smad3<tspan dy="-2.3" font-size="4.6">-</tspan></text>
<line x1="356.60" y1="36.00" x2="375.00" y2="36.00" stroke="#8a8a8a" stroke-width="0.9"/>
<circle cx="364.30" cy="32.80" r="0.95" fill="#111"/>
<circle cx="367.30" cy="32.80" r="0.95" fill="#111"/>
<line x1="376.80" y1="36.00" x2="412.50" y2="36.00" stroke="#8a8a8a" stroke-width="0.9"/>
<circle cx="393.15" cy="32.80" r="0.95" fill="#111"/>
<circle cx="396.15" cy="32.80" r="0.95" fill="#111"/>
<line x1="376.20" y1="42.60" x2="393.50" y2="42.60" stroke="#8a8a8a" stroke-width="0.9"/>
<circle cx="383.35" cy="39.40" r="0.95" fill="#111"/>
<circle cx="386.35" cy="39.40" r="0.95" fill="#111"/>
<text x="331.50" y="72.80" font-size="7.8" text-anchor="middle" fill="#2a2a2a" stroke="#2a2a2a" stroke-width="0.22" textLength="29.8" lengthAdjust="spacingAndGlyphs" transform="rotate(-90 331.50 72.80)">MDSC (%)</text>
<rect x="242.20" y="247.10" width="8.40" height="18.20" fill="#c70a2c" stroke="#a00a26" stroke-width="0.6"/>
<rect x="257.00" y="210.09" width="8.40" height="55.21" fill="#3aa935" stroke="#2c8c2c" stroke-width="0.6"/>
<rect x="271.40" y="222.25" width="8.40" height="43.05" fill="#9385c9" stroke="#7d74b2" stroke-width="0.6"/>
<rect x="286.20" y="224.36" width="8.40" height="40.94" fill="#e8127f" stroke="#c20a6a" stroke-width="0.6"/>
<line x1="246.40" y1="239.92" x2="246.40" y2="253.67" stroke="#2a2a2a" stroke-width="0.8"/>
<line x1="244.60" y1="239.92" x2="248.20" y2="239.92" stroke="#2a2a2a" stroke-width="0.8"/>
<line x1="244.60" y1="253.67" x2="248.20" y2="253.67" stroke="#2a2a2a" stroke-width="0.6"/>
<circle cx="246.40" cy="240.45" r="1.25" fill="#111"/>
<circle cx="244.00" cy="244.68" r="1.25" fill="#111"/>
<circle cx="248.80" cy="246.80" r="1.25" fill="#111"/>
<circle cx="246.40" cy="250.50" r="1.25" fill="#111"/>
<circle cx="246.40" cy="252.08" r="1.25" fill="#111"/>
<line x1="261.20" y1="200.80" x2="261.20" y2="218.78" stroke="#2a2a2a" stroke-width="0.8"/>
<line x1="259.40" y1="200.80" x2="263.00" y2="200.80" stroke="#2a2a2a" stroke-width="0.8"/>
<line x1="259.40" y1="218.78" x2="263.00" y2="218.78" stroke="#2a2a2a" stroke-width="0.6"/>
<circle cx="261.20" cy="203.45" r="1.25" fill="#111"/>
<circle cx="259.60" cy="207.15" r="1.25" fill="#111"/>
<circle cx="262.80" cy="212.43" r="1.25" fill="#111"/>
<circle cx="261.20" cy="215.08" r="1.25" fill="#111"/>
<line x1="275.60" y1="218.78" x2="275.60" y2="225.12" stroke="#2a2a2a" stroke-width="0.8"/>
<line x1="273.80" y1="218.78" x2="277.40" y2="218.78" stroke="#2a2a2a" stroke-width="0.8"/>
<line x1="273.80" y1="225.12" x2="277.40" y2="225.12" stroke="#2a2a2a" stroke-width="0.6"/>
<circle cx="275.60" cy="218.78" r="1.25" fill="#111"/>
<circle cx="272.40" cy="221.42" r="1.25" fill="#111"/>
<circle cx="278.80" cy="223.01" r="1.25" fill="#111"/>
<circle cx="275.60" cy="223.54" r="1.25" fill="#111"/>
<line x1="290.40" y1="219.83" x2="290.40" y2="228.29" stroke="#2a2a2a" stroke-width="0.8"/>
<line x1="288.60" y1="219.83" x2="292.20" y2="219.83" stroke="#2a2a2a" stroke-width="0.8"/>
<line x1="288.60" y1="228.29" x2="292.20" y2="228.29" stroke="#2a2a2a" stroke-width="0.6"/>
<circle cx="290.40" cy="219.83" r="1.25" fill="#111"/>
<circle cx="288.00" cy="223.01" r="1.25" fill="#111"/>
<circle cx="292.80" cy="225.12" r="1.25" fill="#111"/>
<circle cx="290.40" cy="227.24" r="1.25" fill="#111"/>
<line x1="236.80" y1="183.00" x2="236.80" y2="265.80" stroke="#1a1a1a" stroke-width="1.1"/>
<line x1="236.30" y1="265.30" x2="300.70" y2="265.30" stroke="#1a1a1a" stroke-width="1.1"/>
<line x1="233.80" y1="265.30" x2="236.80" y2="265.30" stroke="#1a1a1a" stroke-width="0.9"/>
<text x="230.60" y="267.70" font-size="6.3" text-anchor="end" fill="#333" stroke="#333" stroke-width="0.22">0</text>
<line x1="233.80" y1="238.87" x2="236.80" y2="238.87" stroke="#1a1a1a" stroke-width="0.9"/>
<text x="230.60" y="241.27" font-size="6.3" text-anchor="end" fill="#333" stroke="#333" stroke-width="0.22">500</text>
<line x1="233.80" y1="212.43" x2="236.80" y2="212.43" stroke="#1a1a1a" stroke-width="0.9"/>
<text x="230.60" y="214.83" font-size="6.3" text-anchor="end" fill="#333" stroke="#333" stroke-width="0.22">1000</text>
<line x1="233.80" y1="186.00" x2="236.80" y2="186.00" stroke="#1a1a1a" stroke-width="0.9"/>
<text x="230.60" y="188.40" font-size="6.3" text-anchor="end" fill="#333" stroke="#333" stroke-width="0.22">1500</text>
<line x1="246.40" y1="265.30" x2="246.40" y2="268.10" stroke="#1a1a1a" stroke-width="0.9"/>
<line x1="261.20" y1="265.30" x2="261.20" y2="268.10" stroke="#1a1a1a" stroke-width="0.9"/>
<line x1="275.60" y1="265.30" x2="275.60" y2="268.10" stroke="#1a1a1a" stroke-width="0.9"/>
<line x1="290.40" y1="265.30" x2="290.40" y2="268.10" stroke="#1a1a1a" stroke-width="0.9"/>
<text x="248.70" y="275.00" font-size="7.4" text-anchor="end" fill="#2a2a2a" stroke="#2a2a2a" stroke-width="0.22" textLength="52.5" lengthAdjust="spacingAndGlyphs" transform="rotate(-45 248.70 275.00)">Control-NC-MDSC</text>
<text x="263.50" y="275.00" font-size="7.4" text-anchor="end" fill="#2a2a2a" stroke="#2a2a2a" stroke-width="0.22" textLength="46" lengthAdjust="spacingAndGlyphs" transform="rotate(-45 263.50 275.00)">Romi-NC-MDSC</text>
<text x="277.90" y="275.00" font-size="7.4" text-anchor="end" fill="#2a2a2a" stroke="#2a2a2a" stroke-width="0.22" textLength="59" lengthAdjust="spacingAndGlyphs" transform="rotate(-45 277.90 275.00)">Romi-Smad2<tspan dy="-2.3" font-size="4.6">-</tspan><tspan dy="2.3"> -MDSC</tspan></text>
<text x="292.70" y="275.00" font-size="7.4" text-anchor="end" fill="#2a2a2a" stroke="#2a2a2a" stroke-width="0.22" textLength="58.5" lengthAdjust="spacingAndGlyphs" transform="rotate(-45 292.70 275.00)">Romi-Smad3<tspan dy="-2.3" font-size="4.6">-</tspan><tspan dy="2.3"> -MDSC</tspan></text>
<line x1="242.00" y1="191.10" x2="258.80" y2="191.10" stroke="#8a8a8a" stroke-width="0.9"/>
<circle cx="247.40" cy="187.90" r="0.95" fill="#111"/>
<circle cx="250.40" cy="187.90" r="0.95" fill="#111"/>
<circle cx="253.40" cy="187.90" r="0.95" fill="#111"/>
<line x1="260.80" y1="191.10" x2="279.20" y2="191.10" stroke="#8a8a8a" stroke-width="0.9"/>
<circle cx="270.00" cy="187.90" r="0.95" fill="#111"/>
<line x1="259.20" y1="180.90" x2="291.00" y2="180.90" stroke="#8a8a8a" stroke-width="0.9"/>
<circle cx="275.10" cy="177.70" r="0.95" fill="#111"/>
<text x="210.80" y="223.90" font-size="7.8" text-anchor="middle" fill="#2a2a2a" stroke="#2a2a2a" stroke-width="0.22" textLength="72.8" lengthAdjust="spacingAndGlyphs" transform="rotate(-90 210.80 223.90)">Platelet counts ( × 10<tspan dy="-2.6" font-size="5">9</tspan><tspan dy="2.6">/L)</tspan></text>
<text x="267.00" y="171.50" font-size="8.1" text-anchor="middle" fill="#1e1e1e" stroke="#1e1e1e" stroke-width="0.22" textLength="22.5" lengthAdjust="spacingAndGlyphs">Day28</text>
<rect x="354.45" y="242.15" width="7.30" height="23.15" fill="#c70a2c" stroke="#a00a26" stroke-width="0.6"/>
<rect x="367.05" y="211.47" width="7.30" height="53.83" fill="#3aa935" stroke="#2c8c2c" stroke-width="0.6"/>
<rect x="379.75" y="233.88" width="7.30" height="31.42" fill="#9385c9" stroke="#7d74b2" stroke-width="0.6"/>
<rect x="392.25" y="232.15" width="7.30" height="33.15" fill="#e8127f" stroke="#c20a6a" stroke-width="0.6"/>
<line x1="358.10" y1="235.30" x2="358.10" y2="248.40" stroke="#2a2a2a" stroke-width="0.8"/>
<line x1="356.30" y1="235.30" x2="359.90" y2="235.30" stroke="#2a2a2a" stroke-width="0.8"/>
<line x1="356.30" y1="248.40" x2="359.90" y2="248.40" stroke="#2a2a2a" stroke-width="0.6"/>
<circle cx="358.10" cy="233.23" r="1.25" fill="#111"/>
<circle cx="358.10" cy="238.41" r="1.25" fill="#111"/>
<circle cx="358.10" cy="246.34" r="1.25" fill="#111"/>
<circle cx="358.10" cy="249.78" r="1.25" fill="#111"/>
<line x1="370.70" y1="198.75" x2="370.70" y2="223.58" stroke="#2a2a2a" stroke-width="0.8"/>
<line x1="368.90" y1="198.75" x2="372.50" y2="198.75" stroke="#2a2a2a" stroke-width="0.8"/>
<line x1="368.90" y1="223.58" x2="372.50" y2="223.58" stroke="#2a2a2a" stroke-width="0.6"/>
<circle cx="368.30" cy="200.48" r="1.25" fill="#111"/>
<circle cx="373.10" cy="203.93" r="1.25" fill="#111"/>
<circle cx="370.70" cy="214.27" r="1.25" fill="#111"/>
<circle cx="370.70" cy="226.34" r="1.25" fill="#111"/>
<line x1="383.40" y1="229.44" x2="383.40" y2="237.72" stroke="#2a2a2a" stroke-width="0.8"/>
<line x1="381.60" y1="229.44" x2="385.20" y2="229.44" stroke="#2a2a2a" stroke-width="0.8"/>
<line x1="381.60" y1="237.72" x2="385.20" y2="237.72" stroke="#2a2a2a" stroke-width="0.6"/>
<circle cx="383.40" cy="229.44" r="1.25" fill="#111"/>
<circle cx="381.00" cy="232.54" r="1.25" fill="#111"/>
<circle cx="385.80" cy="234.27" r="1.25" fill="#111"/>
<circle cx="383.40" cy="234.96" r="1.25" fill="#111"/>
<line x1="395.90" y1="226.34" x2="395.90" y2="237.37" stroke="#2a2a2a" stroke-width="0.8"/>
<line x1="394.10" y1="226.34" x2="397.70" y2="226.34" stroke="#2a2a2a" stroke-width="0.8"/>
<line x1="394.10" y1="237.37" x2="397.70" y2="237.37" stroke="#2a2a2a" stroke-width="0.6"/>
<circle cx="395.90" cy="226.34" r="1.25" fill="#111"/>
<circle cx="393.50" cy="230.82" r="1.25" fill="#111"/>
<circle cx="398.30" cy="232.54" r="1.25" fill="#111"/>
<circle cx="395.90" cy="235.99" r="1.25" fill="#111"/>
<line x1="350.00" y1="176.10" x2="350.00" y2="265.80" stroke="#1a1a1a" stroke-width="1.1"/>
<line x1="349.50" y1="265.30" x2="404.60" y2="265.30" stroke="#1a1a1a" stroke-width="1.1"/>
<line x1="347.00" y1="265.30" x2="350.00" y2="265.30" stroke="#1a1a1a" stroke-width="0.9"/>
<text x="343.80" y="267.70" font-size="6.3" text-anchor="end" fill="#333" stroke="#333" stroke-width="0.22">60</text>
<line x1="347.00" y1="248.06" x2="350.00" y2="248.06" stroke="#1a1a1a" stroke-width="0.9"/>
<text x="343.80" y="250.46" font-size="6.3" text-anchor="end" fill="#333" stroke="#333" stroke-width="0.22">65</text>
<line x1="347.00" y1="230.82" x2="350.00" y2="230.82" stroke="#1a1a1a" stroke-width="0.9"/>
<text x="343.80" y="233.22" font-size="6.3" text-anchor="end" fill="#333" stroke="#333" stroke-width="0.22">70</text>
<line x1="347.00" y1="213.58" x2="350.00" y2="213.58" stroke="#1a1a1a" stroke-width="0.9"/>
<text x="343.80" y="215.98" font-size="6.3" text-anchor="end" fill="#333" stroke="#333" stroke-width="0.22">75</text>
<line x1="347.00" y1="196.34" x2="350.00" y2="196.34" stroke="#1a1a1a" stroke-width="0.9"/>
<text x="343.80" y="198.74" font-size="6.3" text-anchor="end" fill="#333" stroke="#333" stroke-width="0.22">80</text>
<line x1="347.00" y1="179.10" x2="350.00" y2="179.10" stroke="#1a1a1a" stroke-width="0.9"/>
<text x="343.80" y="181.50" font-size="6.3" text-anchor="end" fill="#333" stroke="#333" stroke-width="0.22">85</text>
<line x1="358.10" y1="265.30" x2="358.10" y2="268.10" stroke="#1a1a1a" stroke-width="0.9"/>
<line x1="370.70" y1="265.30" x2="370.70" y2="268.10" stroke="#1a1a1a" stroke-width="0.9"/>
<line x1="383.40" y1="265.30" x2="383.40" y2="268.10" stroke="#1a1a1a" stroke-width="0.9"/>
<line x1="395.90" y1="265.30" x2="395.90" y2="268.10" stroke="#1a1a1a" stroke-width="0.9"/>
<text x="360.40" y="275.00" font-size="7.4" text-anchor="end" fill="#2a2a2a" stroke="#2a2a2a" stroke-width="0.22" textLength="52.5" lengthAdjust="spacingAndGlyphs" transform="rotate(-45 360.40 275.00)">Control-NC-MDSC</text>
<text x="373.00" y="275.00" font-size="7.4" text-anchor="end" fill="#2a2a2a" stroke="#2a2a2a" stroke-width="0.22" textLength="46" lengthAdjust="spacingAndGlyphs" transform="rotate(-45 373.00 275.00)">Romi-NC-MDSC</text>
<text x="385.70" y="275.00" font-size="7.4" text-anchor="end" fill="#2a2a2a" stroke="#2a2a2a" stroke-width="0.22" textLength="59" lengthAdjust="spacingAndGlyphs" transform="rotate(-45 385.70 275.00)">Romi-Smad2<tspan dy="-2.3" font-size="4.6">-</tspan><tspan dy="2.3"> -MDSC</tspan></text>
<text x="398.20" y="275.00" font-size="7.4" text-anchor="end" fill="#2a2a2a" stroke="#2a2a2a" stroke-width="0.22" textLength="58.5" lengthAdjust="spacingAndGlyphs" transform="rotate(-45 398.20 275.00)">Romi-Smad3<tspan dy="-2.3" font-size="4.6">-</tspan><tspan dy="2.3"> -MDSC</tspan></text>
<line x1="357.90" y1="192.80" x2="370.20" y2="192.80" stroke="#8a8a8a" stroke-width="0.9"/>
<circle cx="362.55" cy="189.60" r="0.95" fill="#111"/>
<circle cx="365.55" cy="189.60" r="0.95" fill="#111"/>
<line x1="372.10" y1="192.80" x2="385.10" y2="192.80" stroke="#8a8a8a" stroke-width="0.9"/>
<circle cx="378.60" cy="189.60" r="0.95" fill="#111"/>
<line x1="372.10" y1="184.60" x2="399.90" y2="184.60" stroke="#8a8a8a" stroke-width="0.9"/>
<circle cx="386.00" cy="181.40" r="0.95" fill="#111"/>
<text x="321.40" y="220.60" font-size="7.8" text-anchor="middle" fill="#2a2a2a" stroke="#2a2a2a" stroke-width="0.22" textLength="81.7" lengthAdjust="spacingAndGlyphs" transform="rotate(-90 321.40 220.60)">Percentage of CD4<tspan dy="-2.3" font-size="4.6">+</tspan><tspan dy="2.3"> cells in</tspan></text>
<text x="331.60" y="220.60" font-size="7.8" text-anchor="middle" fill="#2a2a2a" stroke="#2a2a2a" stroke-width="0.22" textLength="36.9" lengthAdjust="spacingAndGlyphs" transform="rotate(-90 331.60 220.60)">G0 stage (%)</text>
<rect x="460.40" y="243.88" width="7.40" height="21.42" fill="#c70a2c" stroke="#a00a26" stroke-width="0.6"/>
<rect x="473.50" y="213.88" width="7.40" height="51.42" fill="#3aa935" stroke="#2c8c2c" stroke-width="0.6"/>
<rect x="486.40" y="232.15" width="7.40" height="33.15" fill="#9385c9" stroke="#7d74b2" stroke-width="0.6"/>
<rect x="499.70" y="232.15" width="7.40" height="33.15" fill="#e8127f" stroke="#c20a6a" stroke-width="0.6"/>
<line x1="464.10" y1="237.37" x2="464.10" y2="249.78" stroke="#2a2a2a" stroke-width="0.8"/>
<line x1="462.30" y1="237.37" x2="465.90" y2="237.37" stroke="#2a2a2a" stroke-width="0.8"/>
<line x1="462.30" y1="249.78" x2="465.90" y2="249.78" stroke="#2a2a2a" stroke-width="0.6"/>
<circle cx="464.10" cy="234.27" r="1.25" fill="#111"/>
<circle cx="464.10" cy="242.54" r="1.25" fill="#111"/>
<circle cx="462.50" cy="244.61" r="1.25" fill="#111"/>
<circle cx="465.70" cy="246.34" r="1.25" fill="#111"/>
<line x1="477.20" y1="201.51" x2="477.20" y2="225.65" stroke="#2a2a2a" stroke-width="0.8"/>
<line x1="475.40" y1="201.51" x2="479.00" y2="201.51" stroke="#2a2a2a" stroke-width="0.8"/>
<line x1="475.40" y1="225.65" x2="479.00" y2="225.65" stroke="#2a2a2a" stroke-width="0.6"/>
<circle cx="477.20" cy="199.79" r="1.25" fill="#111"/>
<circle cx="477.20" cy="210.13" r="1.25" fill="#111"/>
<circle cx="474.80" cy="218.75" r="1.25" fill="#111"/>
<circle cx="479.60" cy="222.20" r="1.25" fill="#111"/>
<line x1="490.10" y1="223.92" x2="490.10" y2="239.78" stroke="#2a2a2a" stroke-width="0.8"/>
<line x1="488.30" y1="223.92" x2="491.90" y2="223.92" stroke="#2a2a2a" stroke-width="0.8"/>
<line x1="488.30" y1="239.78" x2="491.90" y2="239.78" stroke="#2a2a2a" stroke-width="0.6"/>
<circle cx="490.10" cy="221.17" r="1.25" fill="#111"/>
<circle cx="490.10" cy="230.82" r="1.25" fill="#111"/>
<circle cx="487.70" cy="235.99" r="1.25" fill="#111"/>
<circle cx="492.50" cy="237.72" r="1.25" fill="#111"/>
<line x1="503.40" y1="225.65" x2="503.40" y2="238.06" stroke="#2a2a2a" stroke-width="0.8"/>
<line x1="501.60" y1="225.65" x2="505.20" y2="225.65" stroke="#2a2a2a" stroke-width="0.8"/>
<line x1="501.60" y1="238.06" x2="505.20" y2="238.06" stroke="#2a2a2a" stroke-width="0.6"/>
<circle cx="503.40" cy="223.23" r="1.25" fill="#111"/>
<circle cx="501.00" cy="230.82" r="1.25" fill="#111"/>
<circle cx="505.80" cy="232.54" r="1.25" fill="#111"/>
<circle cx="503.40" cy="234.27" r="1.25" fill="#111"/>
<line x1="455.50" y1="176.10" x2="455.50" y2="265.80" stroke="#1a1a1a" stroke-width="1.1"/>
<line x1="455.00" y1="265.30" x2="513.10" y2="265.30" stroke="#1a1a1a" stroke-width="1.1"/>
<line x1="452.50" y1="265.30" x2="455.50" y2="265.30" stroke="#1a1a1a" stroke-width="0.9"/>
<text x="449.30" y="267.70" font-size="6.3" text-anchor="end" fill="#333" stroke="#333" stroke-width="0.22">60</text>
<line x1="452.50" y1="248.06" x2="455.50" y2="248.06" stroke="#1a1a1a" stroke-width="0.9"/>
<text x="449.30" y="250.46" font-size="6.3" text-anchor="end" fill="#333" stroke="#333" stroke-width="0.22">65</text>
<line x1="452.50" y1="230.82" x2="455.50" y2="230.82" stroke="#1a1a1a" stroke-width="0.9"/>
<text x="449.30" y="233.22" font-size="6.3" text-anchor="end" fill="#333" stroke="#333" stroke-width="0.22">70</text>
<line x1="452.50" y1="213.58" x2="455.50" y2="213.58" stroke="#1a1a1a" stroke-width="0.9"/>
<text x="449.30" y="215.98" font-size="6.3" text-anchor="end" fill="#333" stroke="#333" stroke-width="0.22">75</text>
<line x1="452.50" y1="196.34" x2="455.50" y2="196.34" stroke="#1a1a1a" stroke-width="0.9"/>
<text x="449.30" y="198.74" font-size="6.3" text-anchor="end" fill="#333" stroke="#333" stroke-width="0.22">80</text>
<line x1="452.50" y1="179.10" x2="455.50" y2="179.10" stroke="#1a1a1a" stroke-width="0.9"/>
<text x="449.30" y="181.50" font-size="6.3" text-anchor="end" fill="#333" stroke="#333" stroke-width="0.22">85</text>
<line x1="464.10" y1="265.30" x2="464.10" y2="268.10" stroke="#1a1a1a" stroke-width="0.9"/>
<line x1="477.20" y1="265.30" x2="477.20" y2="268.10" stroke="#1a1a1a" stroke-width="0.9"/>
<line x1="490.10" y1="265.30" x2="490.10" y2="268.10" stroke="#1a1a1a" stroke-width="0.9"/>
<line x1="503.40" y1="265.30" x2="503.40" y2="268.10" stroke="#1a1a1a" stroke-width="0.9"/>
<text x="466.40" y="275.00" font-size="7.4" text-anchor="end" fill="#2a2a2a" stroke="#2a2a2a" stroke-width="0.22" textLength="52.5" lengthAdjust="spacingAndGlyphs" transform="rotate(-45 466.40 275.00)">Control-NC-MDSC</text>
<text x="479.50" y="275.00" font-size="7.4" text-anchor="end" fill="#2a2a2a" stroke="#2a2a2a" stroke-width="0.22" textLength="46" lengthAdjust="spacingAndGlyphs" transform="rotate(-45 479.50 275.00)">Romi-NC-MDSC</text>
<text x="492.40" y="275.00" font-size="7.4" text-anchor="end" fill="#2a2a2a" stroke="#2a2a2a" stroke-width="0.22" textLength="59" lengthAdjust="spacingAndGlyphs" transform="rotate(-45 492.40 275.00)">Romi-Smad2<tspan dy="-2.3" font-size="4.6">-</tspan><tspan dy="2.3"> -MDSC</tspan></text>
<text x="505.70" y="275.00" font-size="7.4" text-anchor="end" fill="#2a2a2a" stroke="#2a2a2a" stroke-width="0.22" textLength="58.5" lengthAdjust="spacingAndGlyphs" transform="rotate(-45 505.70 275.00)">Romi-Smad3<tspan dy="-2.3" font-size="4.6">-</tspan><tspan dy="2.3"> -MDSC</tspan></text>
<line x1="461.40" y1="188.50" x2="474.00" y2="188.50" stroke="#8a8a8a" stroke-width="0.9"/>
<circle cx="466.20" cy="185.30" r="0.95" fill="#111"/>
<circle cx="469.20" cy="185.30" r="0.95" fill="#111"/>
<line x1="477.00" y1="188.50" x2="489.60" y2="188.50" stroke="#8a8a8a" stroke-width="0.9"/>
<circle cx="483.30" cy="185.30" r="0.95" fill="#111"/>
<line x1="477.00" y1="180.70" x2="505.20" y2="180.70" stroke="#8a8a8a" stroke-width="0.9"/>
<circle cx="491.10" cy="177.50" r="0.95" fill="#111"/>
<text x="427.00" y="220.70" font-size="7.8" text-anchor="middle" fill="#2a2a2a" stroke="#2a2a2a" stroke-width="0.22" textLength="85.9" lengthAdjust="spacingAndGlyphs" transform="rotate(-90 427.00 220.70)">Percentage of CD19<tspan dy="-2.3" font-size="4.6">+</tspan><tspan dy="2.3"> cells in</tspan></text>
<text x="437.10" y="220.60" font-size="7.8" text-anchor="middle" fill="#2a2a2a" stroke="#2a2a2a" stroke-width="0.22" textLength="38" lengthAdjust="spacingAndGlyphs" transform="rotate(-90 437.10 220.60)">G0 stage (%)</text>
<rect x="42.00" y="379.96" width="8.40" height="74.14" fill="#c70a2c" stroke="#a00a26" stroke-width="0.6"/>
<rect x="57.00" y="419.19" width="8.40" height="34.91" fill="#3aa935" stroke="#2c8c2c" stroke-width="0.6"/>
<rect x="71.50" y="394.04" width="8.40" height="60.06" fill="#9385c9" stroke="#7d74b2" stroke-width="0.6"/>
<rect x="86.40" y="399.07" width="8.40" height="55.03" fill="#e8127f" stroke="#c20a6a" stroke-width="0.6"/>
<line x1="46.20" y1="367.08" x2="46.20" y2="392.23" stroke="#2a2a2a" stroke-width="0.8"/>
<line x1="44.40" y1="367.08" x2="48.00" y2="367.08" stroke="#2a2a2a" stroke-width="0.8"/>
<line x1="44.40" y1="392.23" x2="48.00" y2="392.23" stroke="#2a2a2a" stroke-width="0.6"/>
<circle cx="46.20" cy="362.55" r="1.25" fill="#111"/>
<circle cx="43.80" cy="378.65" r="1.25" fill="#111"/>
<circle cx="48.60" cy="381.17" r="1.25" fill="#111"/>
<circle cx="46.20" cy="393.74" r="1.25" fill="#111"/>
<line x1="61.20" y1="405.81" x2="61.20" y2="431.97" stroke="#2a2a2a" stroke-width="0.8"/>
<line x1="59.40" y1="405.81" x2="63.00" y2="405.81" stroke="#2a2a2a" stroke-width="0.8"/>
<line x1="59.40" y1="431.97" x2="63.00" y2="431.97" stroke="#2a2a2a" stroke-width="0.6"/>
<circle cx="61.20" cy="405.31" r="1.25" fill="#111"/>
<circle cx="61.20" cy="413.86" r="1.25" fill="#111"/>
<circle cx="61.20" cy="426.44" r="1.25" fill="#111"/>
<circle cx="61.20" cy="433.98" r="1.25" fill="#111"/>
<line x1="75.70" y1="389.72" x2="75.70" y2="397.76" stroke="#2a2a2a" stroke-width="0.8"/>
<line x1="73.90" y1="389.72" x2="77.50" y2="389.72" stroke="#2a2a2a" stroke-width="0.8"/>
<line x1="73.90" y1="397.76" x2="77.50" y2="397.76" stroke="#2a2a2a" stroke-width="0.6"/>
<circle cx="75.70" cy="389.72" r="1.25" fill="#111"/>
<circle cx="73.30" cy="393.74" r="1.25" fill="#111"/>
<circle cx="78.10" cy="394.75" r="1.25" fill="#111"/>
<circle cx="75.70" cy="396.25" r="1.25" fill="#111"/>
<line x1="90.60" y1="389.21" x2="90.60" y2="408.33" stroke="#2a2a2a" stroke-width="0.8"/>
<line x1="88.80" y1="389.21" x2="92.40" y2="389.21" stroke="#2a2a2a" stroke-width="0.8"/>
<line x1="88.80" y1="408.33" x2="92.40" y2="408.33" stroke="#2a2a2a" stroke-width="0.6"/>
<circle cx="90.60" cy="389.21" r="1.25" fill="#111"/>
<circle cx="88.20" cy="394.75" r="1.25" fill="#111"/>
<circle cx="93.00" cy="395.75" r="1.25" fill="#111"/>
<circle cx="90.60" cy="406.31" r="1.25" fill="#111"/>
<line x1="36.50" y1="350.50" x2="36.50" y2="454.60" stroke="#1a1a1a" stroke-width="1.1"/>
<line x1="36.00" y1="454.10" x2="100.80" y2="454.10" stroke="#1a1a1a" stroke-width="1.1"/>
<line x1="33.50" y1="454.10" x2="36.50" y2="454.10" stroke="#1a1a1a" stroke-width="0.9"/>
<text x="30.30" y="456.50" font-size="6.3" text-anchor="end" fill="#333" stroke="#333" stroke-width="0.22">20</text>
<line x1="33.50" y1="428.95" x2="36.50" y2="428.95" stroke="#1a1a1a" stroke-width="0.9"/>
<text x="30.30" y="431.35" font-size="6.3" text-anchor="end" fill="#333" stroke="#333" stroke-width="0.22">25</text>
<line x1="33.50" y1="403.80" x2="36.50" y2="403.80" stroke="#1a1a1a" stroke-width="0.9"/>
<text x="30.30" y="406.20" font-size="6.3" text-anchor="end" fill="#333" stroke="#333" stroke-width="0.22">30</text>
<line x1="33.50" y1="378.65" x2="36.50" y2="378.65" stroke="#1a1a1a" stroke-width="0.9"/>
<text x="30.30" y="381.05" font-size="6.3" text-anchor="end" fill="#333" stroke="#333" stroke-width="0.22">35</text>
<line x1="33.50" y1="353.50" x2="36.50" y2="353.50" stroke="#1a1a1a" stroke-width="0.9"/>
<text x="30.30" y="355.90" font-size="6.3" text-anchor="end" fill="#333" stroke="#333" stroke-width="0.22">40</text>
<line x1="46.20" y1="454.10" x2="46.20" y2="456.90" stroke="#1a1a1a" stroke-width="0.9"/>
<line x1="61.20" y1="454.10" x2="61.20" y2="456.90" stroke="#1a1a1a" stroke-width="0.9"/>
<line x1="75.70" y1="454.10" x2="75.70" y2="456.90" stroke="#1a1a1a" stroke-width="0.9"/>
<line x1="90.60" y1="454.10" x2="90.60" y2="456.90" stroke="#1a1a1a" stroke-width="0.9"/>
<text x="48.50" y="463.80" font-size="7.4" text-anchor="end" fill="#2a2a2a" stroke="#2a2a2a" stroke-width="0.22" textLength="52.5" lengthAdjust="spacingAndGlyphs" transform="rotate(-45 48.50 463.80)">Control-NC-MDSC</text>
<text x="63.50" y="463.80" font-size="7.4" text-anchor="end" fill="#2a2a2a" stroke="#2a2a2a" stroke-width="0.22" textLength="46" lengthAdjust="spacingAndGlyphs" transform="rotate(-45 63.50 463.80)">Romi-NC-MDSC</text>
<text x="78.00" y="463.80" font-size="7.4" text-anchor="end" fill="#2a2a2a" stroke="#2a2a2a" stroke-width="0.22" textLength="59" lengthAdjust="spacingAndGlyphs" transform="rotate(-45 78.00 463.80)">Romi-Smad2<tspan dy="-2.3" font-size="4.6">-</tspan><tspan dy="2.3"> -MDSC</tspan></text>
<text x="92.90" y="463.80" font-size="7.4" text-anchor="end" fill="#2a2a2a" stroke="#2a2a2a" stroke-width="0.22" textLength="58.5" lengthAdjust="spacingAndGlyphs" transform="rotate(-45 92.90 463.80)">Romi-Smad3<tspan dy="-2.3" font-size="4.6">-</tspan><tspan dy="2.3"> -MDSC</tspan></text>
<line x1="43.30" y1="357.50" x2="57.80" y2="357.50" stroke="#8a8a8a" stroke-width="0.9"/>
<circle cx="49.05" cy="354.30" r="0.95" fill="#111"/>
<circle cx="52.05" cy="354.30" r="0.95" fill="#111"/>
<line x1="60.10" y1="357.50" x2="76.00" y2="357.50" stroke="#8a8a8a" stroke-width="0.9"/>
<circle cx="66.55" cy="354.30" r="0.95" fill="#111"/>
<circle cx="69.55" cy="354.30" r="0.95" fill="#111"/>
<line x1="60.80" y1="348.60" x2="92.70" y2="348.60" stroke="#8a8a8a" stroke-width="0.9"/>
<circle cx="76.75" cy="345.40" r="0.95" fill="#111"/>
<text x="17.60" y="402.20" font-size="7.8" text-anchor="middle" fill="#2a2a2a" stroke="#2a2a2a" stroke-width="0.22" textLength="111.7" lengthAdjust="spacingAndGlyphs" transform="rotate(-90 17.60 402.20)">Percentage of Th1 in CD4<tspan dy="-2.3" font-size="4.6">+</tspan><tspan dy="2.3"> T cells (%)</tspan></text>
<rect x="145.30" y="412.47" width="8.20" height="41.83" fill="#c70a2c" stroke="#a00a26" stroke-width="0.6"/>
<rect x="159.70" y="391.08" width="8.20" height="63.22" fill="#3aa935" stroke="#2c8c2c" stroke-width="0.6"/>
<rect x="174.40" y="403.11" width="8.20" height="51.19" fill="#9385c9" stroke="#7d74b2" stroke-width="0.6"/>
<rect x="188.90" y="406.46" width="8.20" height="47.84" fill="#e8127f" stroke="#c20a6a" stroke-width="0.6"/>
<line x1="149.40" y1="405.49" x2="149.40" y2="418.86" stroke="#2a2a2a" stroke-width="0.8"/>
<line x1="147.60" y1="405.49" x2="151.20" y2="405.49" stroke="#2a2a2a" stroke-width="0.8"/>
<line x1="147.60" y1="418.86" x2="151.20" y2="418.86" stroke="#2a2a2a" stroke-width="0.6"/>
<circle cx="149.40" cy="405.49" r="1.25" fill="#111"/>
<circle cx="149.40" cy="409.50" r="1.25" fill="#111"/>
<circle cx="147.00" cy="414.85" r="1.25" fill="#111"/>
<circle cx="151.80" cy="416.19" r="1.25" fill="#111"/>
<line x1="163.80" y1="385.43" x2="163.80" y2="396.13" stroke="#2a2a2a" stroke-width="0.8"/>
<line x1="162.00" y1="385.43" x2="165.60" y2="385.43" stroke="#2a2a2a" stroke-width="0.8"/>
<line x1="162.00" y1="396.13" x2="165.60" y2="396.13" stroke="#2a2a2a" stroke-width="0.6"/>
<circle cx="163.80" cy="385.43" r="1.25" fill="#111"/>
<circle cx="163.80" cy="389.44" r="1.25" fill="#111"/>
<circle cx="161.40" cy="392.78" r="1.25" fill="#111"/>
<circle cx="166.20" cy="394.12" r="1.25" fill="#111"/>
<line x1="178.50" y1="396.13" x2="178.50" y2="409.50" stroke="#2a2a2a" stroke-width="0.8"/>
<line x1="176.70" y1="396.13" x2="180.30" y2="396.13" stroke="#2a2a2a" stroke-width="0.8"/>
<line x1="176.70" y1="409.50" x2="180.30" y2="409.50" stroke="#2a2a2a" stroke-width="0.6"/>
<circle cx="178.50" cy="396.13" r="1.25" fill="#111"/>
<circle cx="178.50" cy="404.15" r="1.25" fill="#111"/>
<circle cx="176.10" cy="407.49" r="1.25" fill="#111"/>
<circle cx="180.90" cy="408.83" r="1.25" fill="#111"/>
<line x1="193.00" y1="400.14" x2="193.00" y2="412.17" stroke="#2a2a2a" stroke-width="0.8"/>
<line x1="191.20" y1="400.14" x2="194.80" y2="400.14" stroke="#2a2a2a" stroke-width="0.8"/>
<line x1="191.20" y1="412.17" x2="194.80" y2="412.17" stroke="#2a2a2a" stroke-width="0.6"/>
<circle cx="193.00" cy="400.14" r="1.25" fill="#111"/>
<circle cx="193.00" cy="405.49" r="1.25" fill="#111"/>
<circle cx="193.00" cy="410.84" r="1.25" fill="#111"/>
<line x1="139.40" y1="351.00" x2="139.40" y2="454.80" stroke="#1a1a1a" stroke-width="1.1"/>
<line x1="138.90" y1="454.30" x2="201.90" y2="454.30" stroke="#1a1a1a" stroke-width="1.1"/>
<line x1="136.40" y1="454.30" x2="139.40" y2="454.30" stroke="#1a1a1a" stroke-width="0.9"/>
<text x="133.20" y="456.70" font-size="6.3" text-anchor="end" fill="#333" stroke="#333" stroke-width="0.22">0</text>
<line x1="136.40" y1="420.87" x2="139.40" y2="420.87" stroke="#1a1a1a" stroke-width="0.9"/>
<text x="133.20" y="423.27" font-size="6.3" text-anchor="end" fill="#333" stroke="#333" stroke-width="0.22">5</text>
<line x1="136.40" y1="387.43" x2="139.40" y2="387.43" stroke="#1a1a1a" stroke-width="0.9"/>
<text x="133.20" y="389.83" font-size="6.3" text-anchor="end" fill="#333" stroke="#333" stroke-width="0.22">10</text>
<line x1="136.40" y1="354.00" x2="139.40" y2="354.00" stroke="#1a1a1a" stroke-width="0.9"/>
<text x="133.20" y="356.40" font-size="6.3" text-anchor="end" fill="#333" stroke="#333" stroke-width="0.22">15</text>
<line x1="149.40" y1="454.30" x2="149.40" y2="457.10" stroke="#1a1a1a" stroke-width="0.9"/>
<line x1="163.80" y1="454.30" x2="163.80" y2="457.10" stroke="#1a1a1a" stroke-width="0.9"/>
<line x1="178.50" y1="454.30" x2="178.50" y2="457.10" stroke="#1a1a1a" stroke-width="0.9"/>
<line x1="193.00" y1="454.30" x2="193.00" y2="457.10" stroke="#1a1a1a" stroke-width="0.9"/>
<text x="151.70" y="464.00" font-size="7.4" text-anchor="end" fill="#2a2a2a" stroke="#2a2a2a" stroke-width="0.22" textLength="52.5" lengthAdjust="spacingAndGlyphs" transform="rotate(-45 151.70 464.00)">Control-NC-MDSC</text>
<text x="166.10" y="464.00" font-size="7.4" text-anchor="end" fill="#2a2a2a" stroke="#2a2a2a" stroke-width="0.22" textLength="46" lengthAdjust="spacingAndGlyphs" transform="rotate(-45 166.10 464.00)">Romi-NC-MDSC</text>
<text x="180.80" y="464.00" font-size="7.4" text-anchor="end" fill="#2a2a2a" stroke="#2a2a2a" stroke-width="0.22" textLength="59" lengthAdjust="spacingAndGlyphs" transform="rotate(-45 180.80 464.00)">Romi-Smad2<tspan dy="-2.3" font-size="4.6">-</tspan><tspan dy="2.3"> -MDSC</tspan></text>
<text x="195.30" y="464.00" font-size="7.4" text-anchor="end" fill="#2a2a2a" stroke="#2a2a2a" stroke-width="0.22" textLength="58.5" lengthAdjust="spacingAndGlyphs" transform="rotate(-45 195.30 464.00)">Romi-Smad3<tspan dy="-2.3" font-size="4.6">-</tspan><tspan dy="2.3"> -MDSC</tspan></text>
<line x1="146.70" y1="371.50" x2="160.60" y2="371.50" stroke="#8a8a8a" stroke-width="0.9"/>
<circle cx="152.15" cy="368.30" r="0.95" fill="#111"/>
<circle cx="155.15" cy="368.30" r="0.95" fill="#111"/>
<line x1="163.40" y1="371.50" x2="178.10" y2="371.50" stroke="#8a8a8a" stroke-width="0.9"/>
<circle cx="170.75" cy="368.30" r="0.95" fill="#111"/>
<line x1="163.40" y1="363.30" x2="196.10" y2="363.30" stroke="#8a8a8a" stroke-width="0.9"/>
<circle cx="178.25" cy="360.10" r="0.95" fill="#111"/>
<circle cx="181.25" cy="360.10" r="0.95" fill="#111"/>
<text x="121.80" y="402.10" font-size="7.8" text-anchor="middle" fill="#2a2a2a" stroke="#2a2a2a" stroke-width="0.22" textLength="113.6" lengthAdjust="spacingAndGlyphs" transform="rotate(-90 121.80 402.10)">Percentage of Treg in CD4<tspan dy="-2.3" font-size="4.6">+</tspan><tspan dy="2.3"> T cells (%)</tspan></text>
<rect x="246.20" y="381.25" width="8.40" height="73.05" fill="#c70a2c" stroke="#a00a26" stroke-width="0.6"/>
<rect x="260.80" y="421.67" width="8.40" height="32.63" fill="#3aa935" stroke="#2c8c2c" stroke-width="0.6"/>
<rect x="275.20" y="395.22" width="8.40" height="59.08" fill="#9385c9" stroke="#7d74b2" stroke-width="0.6"/>
<rect x="289.90" y="395.72" width="8.40" height="58.58" fill="#e8127f" stroke="#c20a6a" stroke-width="0.6"/>
<line x1="250.40" y1="370.97" x2="250.40" y2="390.93" stroke="#2a2a2a" stroke-width="0.8"/>
<line x1="248.60" y1="370.97" x2="252.20" y2="370.97" stroke="#2a2a2a" stroke-width="0.8"/>
<line x1="248.60" y1="390.93" x2="252.20" y2="390.93" stroke="#2a2a2a" stroke-width="0.6"/>
<circle cx="250.40" cy="366.98" r="1.25" fill="#111"/>
<circle cx="248.00" cy="381.94" r="1.25" fill="#111"/>
<circle cx="252.80" cy="381.94" r="1.25" fill="#111"/>
<circle cx="250.40" cy="389.43" r="1.25" fill="#111"/>
<line x1="265.00" y1="405.90" x2="265.00" y2="436.84" stroke="#2a2a2a" stroke-width="0.8"/>
<line x1="263.20" y1="405.90" x2="266.80" y2="405.90" stroke="#2a2a2a" stroke-width="0.8"/>
<line x1="263.20" y1="436.84" x2="266.80" y2="436.84" stroke="#2a2a2a" stroke-width="0.6"/>
<circle cx="265.00" cy="397.91" r="1.25" fill="#111"/>
<circle cx="261.80" cy="426.86" r="1.25" fill="#111"/>
<circle cx="265.00" cy="429.35" r="1.25" fill="#111"/>
<circle cx="268.20" cy="426.86" r="1.25" fill="#111"/>
<circle cx="265.00" cy="431.85" r="1.25" fill="#111"/>
<line x1="279.40" y1="391.43" x2="279.40" y2="398.41" stroke="#2a2a2a" stroke-width="0.8"/>
<line x1="277.60" y1="391.43" x2="281.20" y2="391.43" stroke="#2a2a2a" stroke-width="0.8"/>
<line x1="277.60" y1="398.41" x2="281.20" y2="398.41" stroke="#2a2a2a" stroke-width="0.6"/>
<circle cx="279.40" cy="390.93" r="1.25" fill="#111"/>
<circle cx="277.00" cy="393.42" r="1.25" fill="#111"/>
<circle cx="281.80" cy="393.42" r="1.25" fill="#111"/>
<circle cx="279.40" cy="399.41" r="1.25" fill="#111"/>
<line x1="294.10" y1="385.44" x2="294.10" y2="405.40" stroke="#2a2a2a" stroke-width="0.8"/>
<line x1="292.30" y1="385.44" x2="295.90" y2="385.44" stroke="#2a2a2a" stroke-width="0.8"/>
<line x1="292.30" y1="405.40" x2="295.90" y2="405.40" stroke="#2a2a2a" stroke-width="0.6"/>
<circle cx="294.10" cy="384.44" r="1.25" fill="#111"/>
<circle cx="294.10" cy="391.93" r="1.25" fill="#111"/>
<circle cx="294.10" cy="399.41" r="1.25" fill="#111"/>
<circle cx="294.10" cy="406.89" r="1.25" fill="#111"/>
<line x1="241.40" y1="351.50" x2="241.40" y2="454.80" stroke="#1a1a1a" stroke-width="1.1"/>
<line x1="240.90" y1="454.30" x2="305.80" y2="454.30" stroke="#1a1a1a" stroke-width="1.1"/>
<line x1="238.40" y1="454.30" x2="241.40" y2="454.30" stroke="#1a1a1a" stroke-width="0.9"/>
<text x="235.20" y="456.70" font-size="6.3" text-anchor="end" fill="#333" stroke="#333" stroke-width="0.22">25</text>
<line x1="238.40" y1="429.35" x2="241.40" y2="429.35" stroke="#1a1a1a" stroke-width="0.9"/>
<text x="235.20" y="431.75" font-size="6.3" text-anchor="end" fill="#333" stroke="#333" stroke-width="0.22">30</text>
<line x1="238.40" y1="404.40" x2="241.40" y2="404.40" stroke="#1a1a1a" stroke-width="0.9"/>
<text x="235.20" y="406.80" font-size="6.3" text-anchor="end" fill="#333" stroke="#333" stroke-width="0.22">35</text>
<line x1="238.40" y1="379.45" x2="241.40" y2="379.45" stroke="#1a1a1a" stroke-width="0.9"/>
<text x="235.20" y="381.85" font-size="6.3" text-anchor="end" fill="#333" stroke="#333" stroke-width="0.22">40</text>
<line x1="238.40" y1="354.50" x2="241.40" y2="354.50" stroke="#1a1a1a" stroke-width="0.9"/>
<text x="235.20" y="356.90" font-size="6.3" text-anchor="end" fill="#333" stroke="#333" stroke-width="0.22">45</text>
<line x1="250.40" y1="454.30" x2="250.40" y2="457.10" stroke="#1a1a1a" stroke-width="0.9"/>
<line x1="265.00" y1="454.30" x2="265.00" y2="457.10" stroke="#1a1a1a" stroke-width="0.9"/>
<line x1="279.40" y1="454.30" x2="279.40" y2="457.10" stroke="#1a1a1a" stroke-width="0.9"/>
<line x1="294.10" y1="454.30" x2="294.10" y2="457.10" stroke="#1a1a1a" stroke-width="0.9"/>
<text x="252.70" y="464.00" font-size="7.4" text-anchor="end" fill="#2a2a2a" stroke="#2a2a2a" stroke-width="0.22" textLength="52.5" lengthAdjust="spacingAndGlyphs" transform="rotate(-45 252.70 464.00)">Control-NC-MDSC</text>
<text x="267.30" y="464.00" font-size="7.4" text-anchor="end" fill="#2a2a2a" stroke="#2a2a2a" stroke-width="0.22" textLength="46" lengthAdjust="spacingAndGlyphs" transform="rotate(-45 267.30 464.00)">Romi-NC-MDSC</text>
<text x="281.70" y="464.00" font-size="7.4" text-anchor="end" fill="#2a2a2a" stroke="#2a2a2a" stroke-width="0.22" textLength="59" lengthAdjust="spacingAndGlyphs" transform="rotate(-45 281.70 464.00)">Romi-Smad2<tspan dy="-2.3" font-size="4.6">-</tspan><tspan dy="2.3"> -MDSC</tspan></text>
<text x="296.40" y="464.00" font-size="7.4" text-anchor="end" fill="#2a2a2a" stroke="#2a2a2a" stroke-width="0.22" textLength="58.5" lengthAdjust="spacingAndGlyphs" transform="rotate(-45 296.40 464.00)">Romi-Smad3<tspan dy="-2.3" font-size="4.6">-</tspan><tspan dy="2.3"> -MDSC</tspan></text>
<line x1="248.20" y1="360.50" x2="262.60" y2="360.50" stroke="#8a8a8a" stroke-width="0.9"/>
<circle cx="253.90" cy="357.30" r="0.95" fill="#111"/>
<circle cx="256.90" cy="357.30" r="0.95" fill="#111"/>
<line x1="265.00" y1="360.50" x2="279.40" y2="360.50" stroke="#8a8a8a" stroke-width="0.9"/>
<circle cx="272.20" cy="357.30" r="0.95" fill="#111"/>
<line x1="265.00" y1="351.70" x2="296.40" y2="351.70" stroke="#8a8a8a" stroke-width="0.9"/>
<circle cx="280.70" cy="348.50" r="0.95" fill="#111"/>
<text x="223.00" y="402.90" font-size="7.8" text-anchor="middle" fill="#2a2a2a" stroke="#2a2a2a" stroke-width="0.22" textLength="107.8" lengthAdjust="spacingAndGlyphs" transform="rotate(-90 223.00 402.90)">Percentage of  FASL<tspan dy="-2.3" font-size="4.6">+</tspan><tspan dy="2.3"> cells in CTL (%)</tspan></text>
<rect x="359.65" y="389.86" width="8.70" height="64.44" fill="#c70a2c" stroke="#a00a26" stroke-width="0.6"/>
<rect x="374.55" y="423.72" width="8.70" height="30.58" fill="#3aa935" stroke="#2c8c2c" stroke-width="0.6"/>
<rect x="388.85" y="404.80" width="8.70" height="49.50" fill="#9385c9" stroke="#7d74b2" stroke-width="0.6"/>
<rect x="403.35" y="406.29" width="8.70" height="48.01" fill="#e8127f" stroke="#c20a6a" stroke-width="0.6"/>
<line x1="364.00" y1="371.63" x2="364.00" y2="407.49" stroke="#2a2a2a" stroke-width="0.8"/>
<line x1="362.20" y1="371.63" x2="365.80" y2="371.63" stroke="#2a2a2a" stroke-width="0.8"/>
<line x1="362.20" y1="407.49" x2="365.80" y2="407.49" stroke="#2a2a2a" stroke-width="0.6"/>
<circle cx="364.00" cy="365.66" r="1.25" fill="#111"/>
<circle cx="364.00" cy="385.58" r="1.25" fill="#111"/>
<circle cx="361.60" cy="399.52" r="1.25" fill="#111"/>
<circle cx="366.40" cy="404.50" r="1.25" fill="#111"/>
<line x1="378.90" y1="410.48" x2="378.90" y2="436.37" stroke="#2a2a2a" stroke-width="0.8"/>
<line x1="377.10" y1="410.48" x2="380.70" y2="410.48" stroke="#2a2a2a" stroke-width="0.8"/>
<line x1="377.10" y1="436.37" x2="380.70" y2="436.37" stroke="#2a2a2a" stroke-width="0.6"/>
<circle cx="378.90" cy="410.48" r="1.25" fill="#111"/>
<circle cx="378.90" cy="419.44" r="1.25" fill="#111"/>
<circle cx="378.90" cy="429.40" r="1.25" fill="#111"/>
<circle cx="378.90" cy="434.38" r="1.25" fill="#111"/>
<line x1="393.20" y1="395.54" x2="393.20" y2="413.46" stroke="#2a2a2a" stroke-width="0.8"/>
<line x1="391.40" y1="395.54" x2="395.00" y2="395.54" stroke="#2a2a2a" stroke-width="0.8"/>
<line x1="391.40" y1="413.46" x2="395.00" y2="413.46" stroke="#2a2a2a" stroke-width="0.6"/>
<circle cx="393.20" cy="398.52" r="1.25" fill="#111"/>
<circle cx="390.80" cy="398.52" r="1.25" fill="#111"/>
<circle cx="395.60" cy="407.49" r="1.25" fill="#111"/>
<circle cx="393.20" cy="416.45" r="1.25" fill="#111"/>
<line x1="407.70" y1="400.02" x2="407.70" y2="411.97" stroke="#2a2a2a" stroke-width="0.8"/>
<line x1="405.90" y1="400.02" x2="409.50" y2="400.02" stroke="#2a2a2a" stroke-width="0.8"/>
<line x1="405.90" y1="411.97" x2="409.50" y2="411.97" stroke="#2a2a2a" stroke-width="0.6"/>
<circle cx="407.70" cy="399.52" r="1.25" fill="#111"/>
<circle cx="405.30" cy="404.50" r="1.25" fill="#111"/>
<circle cx="410.10" cy="405.50" r="1.25" fill="#111"/>
<circle cx="407.70" cy="408.48" r="1.25" fill="#111"/>
<line x1="354.50" y1="351.70" x2="354.50" y2="454.80" stroke="#1a1a1a" stroke-width="1.1"/>
<line x1="354.00" y1="454.30" x2="419.80" y2="454.30" stroke="#1a1a1a" stroke-width="1.1"/>
<line x1="351.50" y1="454.30" x2="354.50" y2="454.30" stroke="#1a1a1a" stroke-width="0.9"/>
<text x="348.30" y="456.70" font-size="6.3" text-anchor="end" fill="#333" stroke="#333" stroke-width="0.22">14</text>
<line x1="351.50" y1="434.38" x2="354.50" y2="434.38" stroke="#1a1a1a" stroke-width="0.9"/>
<text x="348.30" y="436.78" font-size="6.3" text-anchor="end" fill="#333" stroke="#333" stroke-width="0.22">16</text>
<line x1="351.50" y1="414.46" x2="354.50" y2="414.46" stroke="#1a1a1a" stroke-width="0.9"/>
<text x="348.30" y="416.86" font-size="6.3" text-anchor="end" fill="#333" stroke="#333" stroke-width="0.22">18</text>
<line x1="351.50" y1="394.54" x2="354.50" y2="394.54" stroke="#1a1a1a" stroke-width="0.9"/>
<text x="348.30" y="396.94" font-size="6.3" text-anchor="end" fill="#333" stroke="#333" stroke-width="0.22">20</text>
<line x1="351.50" y1="374.62" x2="354.50" y2="374.62" stroke="#1a1a1a" stroke-width="0.9"/>
<text x="348.30" y="377.02" font-size="6.3" text-anchor="end" fill="#333" stroke="#333" stroke-width="0.22">22</text>
<line x1="351.50" y1="354.70" x2="354.50" y2="354.70" stroke="#1a1a1a" stroke-width="0.9"/>
<text x="348.30" y="357.10" font-size="6.3" text-anchor="end" fill="#333" stroke="#333" stroke-width="0.22">24</text>
<line x1="364.00" y1="454.30" x2="364.00" y2="457.10" stroke="#1a1a1a" stroke-width="0.9"/>
<line x1="378.90" y1="454.30" x2="378.90" y2="457.10" stroke="#1a1a1a" stroke-width="0.9"/>
<line x1="393.20" y1="454.30" x2="393.20" y2="457.10" stroke="#1a1a1a" stroke-width="0.9"/>
<line x1="407.70" y1="454.30" x2="407.70" y2="457.10" stroke="#1a1a1a" stroke-width="0.9"/>
<text x="366.30" y="464.00" font-size="7.4" text-anchor="end" fill="#2a2a2a" stroke="#2a2a2a" stroke-width="0.22" textLength="52.5" lengthAdjust="spacingAndGlyphs" transform="rotate(-45 366.30 464.00)">Control-NC-MDSC</text>
<text x="381.20" y="464.00" font-size="7.4" text-anchor="end" fill="#2a2a2a" stroke="#2a2a2a" stroke-width="0.22" textLength="46" lengthAdjust="spacingAndGlyphs" transform="rotate(-45 381.20 464.00)">Romi-NC-MDSC</text>
<text x="395.50" y="464.00" font-size="7.4" text-anchor="end" fill="#2a2a2a" stroke="#2a2a2a" stroke-width="0.22" textLength="59" lengthAdjust="spacingAndGlyphs" transform="rotate(-45 395.50 464.00)">Romi-Smad2<tspan dy="-2.3" font-size="4.6">-</tspan><tspan dy="2.3"> -MDSC</tspan></text>
<text x="410.00" y="464.00" font-size="7.4" text-anchor="end" fill="#2a2a2a" stroke="#2a2a2a" stroke-width="0.22" textLength="58.5" lengthAdjust="spacingAndGlyphs" transform="rotate(-45 410.00 464.00)">Romi-Smad3<tspan dy="-2.3" font-size="4.6">-</tspan><tspan dy="2.3"> -MDSC</tspan></text>
<line x1="361.40" y1="357.50" x2="375.40" y2="357.50" stroke="#8a8a8a" stroke-width="0.9"/>
<circle cx="368.40" cy="354.30" r="0.95" fill="#111"/>
<line x1="377.80" y1="357.50" x2="393.10" y2="357.50" stroke="#8a8a8a" stroke-width="0.9"/>
<circle cx="385.45" cy="354.30" r="0.95" fill="#111"/>
<line x1="377.80" y1="348.90" x2="409.90" y2="348.90" stroke="#8a8a8a" stroke-width="0.9"/>
<circle cx="393.85" cy="345.70" r="0.95" fill="#111"/>
<text x="325.60" y="404.70" font-size="7.8" text-anchor="middle" fill="#2a2a2a" stroke="#2a2a2a" stroke-width="0.22" textLength="92" lengthAdjust="spacingAndGlyphs" transform="rotate(-90 325.60 404.70)">Percentage of  CD138<tspan dy="-2.3" font-size="4.6">+</tspan><tspan dy="2.3"> cells in</tspan></text>
<text x="335.70" y="404.30" font-size="7.8" text-anchor="middle" fill="#2a2a2a" stroke="#2a2a2a" stroke-width="0.22" textLength="29.5" lengthAdjust="spacingAndGlyphs" transform="rotate(-90 335.70 404.30)">B cells (%)</text>
</g>
<rect x="0.5" y="0.5" width="519" height="513" fill="none" stroke="#555" stroke-width="1"/>
</svg>
</body></html>
